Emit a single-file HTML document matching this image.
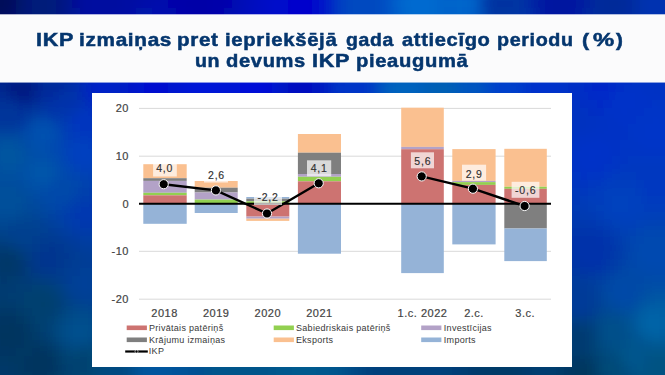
<!DOCTYPE html>
<html><head><meta charset="utf-8"><style>
html,body{margin:0;padding:0;}
body{width:665px;height:375px;overflow:hidden;position:relative;background:#0040b0;font-family:"Liberation Sans",sans-serif;}
.bg{position:absolute;left:0;top:0;}
.hdr{position:absolute;left:0;top:15px;width:665px;height:67px;background:#FBFBFC;box-shadow:0 -1px 0 rgba(251,251,252,0.7),0 1px 0 rgba(251,251,252,0.55);}
.tw{position:absolute;transform-origin:0 0;font-weight:bold;color:#05366E;font-size:18.5px;line-height:21px;white-space:nowrap;letter-spacing:0.6px;-webkit-text-stroke:0.5px #05366E;}
.box{position:absolute;left:92px;top:93px;width:480px;height:274px;background:#fff;}
.ch{position:absolute;left:0;top:0;}
.ax{font-family:"Liberation Sans",sans-serif;font-size:11px;fill:#444;letter-spacing:0.5px;stroke:#444;stroke-width:0.2px;}
.dl{font-family:"Liberation Sans",sans-serif;font-size:10.5px;fill:#303030;letter-spacing:0.8px;stroke:#303030;stroke-width:0.15px;}
.lg{font-family:"Liberation Sans",sans-serif;font-size:9px;fill:#383838;letter-spacing:0.3px;}
</style></head><body>
<svg class="bg" width="665" height="375" viewBox="0 0 665 375"><defs><filter id="bl" x="-10%" y="-10%" width="120%" height="120%"><feGaussianBlur stdDeviation="5" edgeMode="duplicate"/></filter></defs><g filter="url(#bl)" shape-rendering="crispEdges"><rect x="-16" y="-16" width="9" height="9" fill="#000e5c"/><rect x="-8" y="-16" width="9" height="9" fill="#000e5b"/><rect x="0" y="-16" width="9" height="9" fill="#000e5b"/><rect x="8" y="-16" width="9" height="9" fill="#001060"/><rect x="16" y="-16" width="9" height="9" fill="#00146a"/><rect x="24" y="-16" width="9" height="9" fill="#001875"/><rect x="32" y="-16" width="9" height="9" fill="#001979"/><rect x="40" y="-16" width="9" height="9" fill="#001a7b"/><rect x="48" y="-16" width="9" height="9" fill="#00197d"/><rect x="56" y="-16" width="9" height="9" fill="#001883"/><rect x="64" y="-16" width="9" height="9" fill="#00168c"/><rect x="72" y="-16" width="9" height="9" fill="#001296"/><rect x="80" y="-16" width="9" height="9" fill="#000e9c"/><rect x="88" y="-16" width="9" height="9" fill="#000c9f"/><rect x="96" y="-16" width="9" height="9" fill="#000b9f"/><rect x="104" y="-16" width="9" height="9" fill="#000ca0"/><rect x="112" y="-16" width="9" height="9" fill="#000da0"/><rect x="120" y="-16" width="9" height="9" fill="#000ea1"/><rect x="128" y="-16" width="9" height="9" fill="#0010a3"/><rect x="136" y="-16" width="9" height="9" fill="#0011a6"/><rect x="144" y="-16" width="9" height="9" fill="#0011a8"/><rect x="152" y="-16" width="9" height="9" fill="#000faa"/><rect x="160" y="-16" width="9" height="9" fill="#000bab"/><rect x="168" y="-16" width="9" height="9" fill="#0008aa"/><rect x="176" y="-16" width="9" height="9" fill="#0004aa"/><rect x="184" y="-16" width="9" height="9" fill="#0002a9"/><rect x="192" y="-16" width="9" height="9" fill="#0001a9"/><rect x="200" y="-16" width="9" height="9" fill="#0001a9"/><rect x="208" y="-16" width="9" height="9" fill="#0002aa"/><rect x="216" y="-16" width="9" height="9" fill="#0004ab"/><rect x="224" y="-16" width="9" height="9" fill="#0007ae"/><rect x="232" y="-16" width="9" height="9" fill="#000bb2"/><rect x="240" y="-16" width="9" height="9" fill="#000eb7"/><rect x="248" y="-16" width="9" height="9" fill="#0010bd"/><rect x="256" y="-16" width="9" height="9" fill="#0010c2"/><rect x="264" y="-16" width="9" height="9" fill="#000ec6"/><rect x="272" y="-16" width="9" height="9" fill="#000cc8"/><rect x="280" y="-16" width="9" height="9" fill="#0009ca"/><rect x="288" y="-16" width="9" height="9" fill="#0008cb"/><rect x="296" y="-16" width="9" height="9" fill="#0008cb"/><rect x="304" y="-16" width="9" height="9" fill="#0009cb"/><rect x="312" y="-16" width="9" height="9" fill="#000fca"/><rect x="320" y="-16" width="9" height="9" fill="#001ac8"/><rect x="328" y="-16" width="9" height="9" fill="#002bc5"/><rect x="336" y="-16" width="9" height="9" fill="#003bc2"/><rect x="344" y="-16" width="9" height="9" fill="#0043c1"/><rect x="352" y="-16" width="9" height="9" fill="#0047c1"/><rect x="360" y="-16" width="9" height="9" fill="#0048c0"/><rect x="368" y="-16" width="9" height="9" fill="#0049c1"/><rect x="376" y="-16" width="9" height="9" fill="#004cc2"/><rect x="384" y="-16" width="9" height="9" fill="#0052c5"/><rect x="392" y="-16" width="9" height="9" fill="#005bc9"/><rect x="400" y="-16" width="9" height="9" fill="#0063cc"/><rect x="408" y="-16" width="9" height="9" fill="#0067ce"/><rect x="416" y="-16" width="9" height="9" fill="#0068ce"/><rect x="424" y="-16" width="9" height="9" fill="#0067ce"/><rect x="432" y="-16" width="9" height="9" fill="#0065cc"/><rect x="440" y="-16" width="9" height="9" fill="#0062ca"/><rect x="448" y="-16" width="9" height="9" fill="#0062c9"/><rect x="456" y="-16" width="9" height="9" fill="#0062c9"/><rect x="464" y="-16" width="9" height="9" fill="#005fc7"/><rect x="472" y="-16" width="9" height="9" fill="#0056c0"/><rect x="480" y="-16" width="9" height="9" fill="#0047b3"/><rect x="488" y="-16" width="9" height="9" fill="#003ba8"/><rect x="496" y="-16" width="9" height="9" fill="#0037a4"/><rect x="504" y="-16" width="9" height="9" fill="#0036a4"/><rect x="512" y="-16" width="9" height="9" fill="#0035a5"/><rect x="520" y="-16" width="9" height="9" fill="#0031a6"/><rect x="528" y="-16" width="9" height="9" fill="#002aa6"/><rect x="536" y="-16" width="9" height="9" fill="#0022a4"/><rect x="544" y="-16" width="9" height="9" fill="#001ca2"/><rect x="552" y="-16" width="9" height="9" fill="#001aa1"/><rect x="560" y="-16" width="9" height="9" fill="#001aa1"/><rect x="568" y="-16" width="9" height="9" fill="#001ca1"/><rect x="576" y="-16" width="9" height="9" fill="#0020a1"/><rect x="584" y="-16" width="9" height="9" fill="#0025a0"/><rect x="592" y="-16" width="9" height="9" fill="#00289e"/><rect x="600" y="-16" width="9" height="9" fill="#002a9c"/><rect x="608" y="-16" width="9" height="9" fill="#002a9b"/><rect x="616" y="-16" width="9" height="9" fill="#002b9c"/><rect x="624" y="-16" width="9" height="9" fill="#002ca0"/><rect x="632" y="-16" width="9" height="9" fill="#002fa6"/><rect x="640" y="-16" width="9" height="9" fill="#0031ac"/><rect x="648" y="-16" width="9" height="9" fill="#0032af"/><rect x="656" y="-16" width="9" height="9" fill="#0033af"/><rect x="664" y="-16" width="9" height="9" fill="#0033af"/><rect x="672" y="-16" width="9" height="9" fill="#0033af"/><rect x="680" y="-16" width="9" height="9" fill="#0032af"/><rect x="-16" y="-8" width="9" height="9" fill="#000e5b"/><rect x="-8" y="-8" width="9" height="9" fill="#000d59"/><rect x="0" y="-8" width="9" height="9" fill="#000d59"/><rect x="8" y="-8" width="9" height="9" fill="#000f5d"/><rect x="16" y="-8" width="9" height="9" fill="#00146a"/><rect x="24" y="-8" width="9" height="9" fill="#001977"/><rect x="32" y="-8" width="9" height="9" fill="#001a7a"/><rect x="40" y="-8" width="9" height="9" fill="#001a7a"/><rect x="48" y="-8" width="9" height="9" fill="#001a7c"/><rect x="56" y="-8" width="9" height="9" fill="#001981"/><rect x="64" y="-8" width="9" height="9" fill="#00168b"/><rect x="72" y="-8" width="9" height="9" fill="#001197"/><rect x="80" y="-8" width="9" height="9" fill="#000d9e"/><rect x="88" y="-8" width="9" height="9" fill="#000ba0"/><rect x="96" y="-8" width="9" height="9" fill="#000aa0"/><rect x="104" y="-8" width="9" height="9" fill="#000ba0"/><rect x="112" y="-8" width="9" height="9" fill="#000ca0"/><rect x="120" y="-8" width="9" height="9" fill="#000ea1"/><rect x="128" y="-8" width="9" height="9" fill="#0010a3"/><rect x="136" y="-8" width="9" height="9" fill="#0011a6"/><rect x="144" y="-8" width="9" height="9" fill="#0011a9"/><rect x="152" y="-8" width="9" height="9" fill="#000eaa"/><rect x="160" y="-8" width="9" height="9" fill="#000bab"/><rect x="168" y="-8" width="9" height="9" fill="#0006aa"/><rect x="176" y="-8" width="9" height="9" fill="#0003a9"/><rect x="184" y="-8" width="9" height="9" fill="#0001a9"/><rect x="192" y="-8" width="9" height="9" fill="#0000a8"/><rect x="200" y="-8" width="9" height="9" fill="#0000a8"/><rect x="208" y="-8" width="9" height="9" fill="#0001a9"/><rect x="216" y="-8" width="9" height="9" fill="#0003aa"/><rect x="224" y="-8" width="9" height="9" fill="#0006ad"/><rect x="232" y="-8" width="9" height="9" fill="#000ab2"/><rect x="240" y="-8" width="9" height="9" fill="#000db8"/><rect x="248" y="-8" width="9" height="9" fill="#000fbd"/><rect x="256" y="-8" width="9" height="9" fill="#000fc3"/><rect x="264" y="-8" width="9" height="9" fill="#000dc7"/><rect x="272" y="-8" width="9" height="9" fill="#000ac9"/><rect x="280" y="-8" width="9" height="9" fill="#0007cb"/><rect x="288" y="-8" width="9" height="9" fill="#0006cc"/><rect x="296" y="-8" width="9" height="9" fill="#0006cc"/><rect x="304" y="-8" width="9" height="9" fill="#0007cc"/><rect x="312" y="-8" width="9" height="9" fill="#000bcb"/><rect x="320" y="-8" width="9" height="9" fill="#0017c8"/><rect x="328" y="-8" width="9" height="9" fill="#002bc5"/><rect x="336" y="-8" width="9" height="9" fill="#003dc2"/><rect x="344" y="-8" width="9" height="9" fill="#0046c1"/><rect x="352" y="-8" width="9" height="9" fill="#0048c0"/><rect x="360" y="-8" width="9" height="9" fill="#0049c0"/><rect x="368" y="-8" width="9" height="9" fill="#0049c0"/><rect x="376" y="-8" width="9" height="9" fill="#004bc1"/><rect x="384" y="-8" width="9" height="9" fill="#0052c5"/><rect x="392" y="-8" width="9" height="9" fill="#005dca"/><rect x="400" y="-8" width="9" height="9" fill="#0066cd"/><rect x="408" y="-8" width="9" height="9" fill="#0069cf"/><rect x="416" y="-8" width="9" height="9" fill="#006ad0"/><rect x="424" y="-8" width="9" height="9" fill="#006acf"/><rect x="432" y="-8" width="9" height="9" fill="#0067cd"/><rect x="440" y="-8" width="9" height="9" fill="#0064cb"/><rect x="448" y="-8" width="9" height="9" fill="#0064cb"/><rect x="456" y="-8" width="9" height="9" fill="#0065cb"/><rect x="464" y="-8" width="9" height="9" fill="#0064ca"/><rect x="472" y="-8" width="9" height="9" fill="#005bc3"/><rect x="480" y="-8" width="9" height="9" fill="#0045b0"/><rect x="488" y="-8" width="9" height="9" fill="#0037a4"/><rect x="496" y="-8" width="9" height="9" fill="#0034a1"/><rect x="504" y="-8" width="9" height="9" fill="#0034a2"/><rect x="512" y="-8" width="9" height="9" fill="#0034a3"/><rect x="520" y="-8" width="9" height="9" fill="#0031a5"/><rect x="528" y="-8" width="9" height="9" fill="#0028a5"/><rect x="536" y="-8" width="9" height="9" fill="#001fa3"/><rect x="544" y="-8" width="9" height="9" fill="#001aa1"/><rect x="552" y="-8" width="9" height="9" fill="#0018a0"/><rect x="560" y="-8" width="9" height="9" fill="#0018a0"/><rect x="568" y="-8" width="9" height="9" fill="#0019a1"/><rect x="576" y="-8" width="9" height="9" fill="#001ea1"/><rect x="584" y="-8" width="9" height="9" fill="#00249f"/><rect x="592" y="-8" width="9" height="9" fill="#00299c"/><rect x="600" y="-8" width="9" height="9" fill="#002a9a"/><rect x="608" y="-8" width="9" height="9" fill="#002a9a"/><rect x="616" y="-8" width="9" height="9" fill="#002a9a"/><rect x="624" y="-8" width="9" height="9" fill="#002b9e"/><rect x="632" y="-8" width="9" height="9" fill="#002fa6"/><rect x="640" y="-8" width="9" height="9" fill="#0032ad"/><rect x="648" y="-8" width="9" height="9" fill="#0033b0"/><rect x="656" y="-8" width="9" height="9" fill="#0033b0"/><rect x="664" y="-8" width="9" height="9" fill="#0033b0"/><rect x="672" y="-8" width="9" height="9" fill="#0033b0"/><rect x="680" y="-8" width="9" height="9" fill="#0033b0"/><rect x="-16" y="0" width="9" height="9" fill="#000e5b"/><rect x="-8" y="0" width="9" height="9" fill="#000d59"/><rect x="0" y="0" width="9" height="9" fill="#000d5a"/><rect x="8" y="0" width="9" height="9" fill="#000f5e"/><rect x="16" y="0" width="9" height="9" fill="#00156c"/><rect x="24" y="0" width="9" height="9" fill="#001978"/><rect x="32" y="0" width="9" height="9" fill="#001a7a"/><rect x="40" y="0" width="9" height="9" fill="#001a7a"/><rect x="48" y="0" width="9" height="9" fill="#001a7b"/><rect x="56" y="0" width="9" height="9" fill="#001980"/><rect x="64" y="0" width="9" height="9" fill="#00168b"/><rect x="72" y="0" width="9" height="9" fill="#001198"/><rect x="80" y="0" width="9" height="9" fill="#000c9e"/><rect x="88" y="0" width="9" height="9" fill="#000aa0"/><rect x="96" y="0" width="9" height="9" fill="#000aa0"/><rect x="104" y="0" width="9" height="9" fill="#000aa0"/><rect x="112" y="0" width="9" height="9" fill="#000ba0"/><rect x="120" y="0" width="9" height="9" fill="#000da2"/><rect x="128" y="0" width="9" height="9" fill="#0010a4"/><rect x="136" y="0" width="9" height="9" fill="#0011a7"/><rect x="144" y="0" width="9" height="9" fill="#0011aa"/><rect x="152" y="0" width="9" height="9" fill="#000fac"/><rect x="160" y="0" width="9" height="9" fill="#000bac"/><rect x="168" y="0" width="9" height="9" fill="#0006ab"/><rect x="176" y="0" width="9" height="9" fill="#0003a9"/><rect x="184" y="0" width="9" height="9" fill="#0001a8"/><rect x="192" y="0" width="9" height="9" fill="#0000a8"/><rect x="200" y="0" width="9" height="9" fill="#0000a8"/><rect x="208" y="0" width="9" height="9" fill="#0001a9"/><rect x="216" y="0" width="9" height="9" fill="#0002aa"/><rect x="224" y="0" width="9" height="9" fill="#0006ad"/><rect x="232" y="0" width="9" height="9" fill="#000ab2"/><rect x="240" y="0" width="9" height="9" fill="#000db8"/><rect x="248" y="0" width="9" height="9" fill="#000fbe"/><rect x="256" y="0" width="9" height="9" fill="#000fc3"/><rect x="264" y="0" width="9" height="9" fill="#000dc7"/><rect x="272" y="0" width="9" height="9" fill="#000aca"/><rect x="280" y="0" width="9" height="9" fill="#0007cb"/><rect x="288" y="0" width="9" height="9" fill="#0005cc"/><rect x="296" y="0" width="9" height="9" fill="#0005cc"/><rect x="304" y="0" width="9" height="9" fill="#0006cc"/><rect x="312" y="0" width="9" height="9" fill="#000acb"/><rect x="320" y="0" width="9" height="9" fill="#0016c9"/><rect x="328" y="0" width="9" height="9" fill="#002bc5"/><rect x="336" y="0" width="9" height="9" fill="#003ec2"/><rect x="344" y="0" width="9" height="9" fill="#0047c0"/><rect x="352" y="0" width="9" height="9" fill="#0049c0"/><rect x="360" y="0" width="9" height="9" fill="#0049c0"/><rect x="368" y="0" width="9" height="9" fill="#0049c0"/><rect x="376" y="0" width="9" height="9" fill="#004bc1"/><rect x="384" y="0" width="9" height="9" fill="#0052c5"/><rect x="392" y="0" width="9" height="9" fill="#005eca"/><rect x="400" y="0" width="9" height="9" fill="#0067ce"/><rect x="408" y="0" width="9" height="9" fill="#006ad0"/><rect x="416" y="0" width="9" height="9" fill="#006bd0"/><rect x="424" y="0" width="9" height="9" fill="#006ad0"/><rect x="432" y="0" width="9" height="9" fill="#0068ce"/><rect x="440" y="0" width="9" height="9" fill="#0064cb"/><rect x="448" y="0" width="9" height="9" fill="#0065cb"/><rect x="456" y="0" width="9" height="9" fill="#0066cc"/><rect x="464" y="0" width="9" height="9" fill="#0065cb"/><rect x="472" y="0" width="9" height="9" fill="#005dc5"/><rect x="480" y="0" width="9" height="9" fill="#0043af"/><rect x="488" y="0" width="9" height="9" fill="#0035a2"/><rect x="496" y="0" width="9" height="9" fill="#0033a0"/><rect x="504" y="0" width="9" height="9" fill="#0033a1"/><rect x="512" y="0" width="9" height="9" fill="#0034a3"/><rect x="520" y="0" width="9" height="9" fill="#0031a5"/><rect x="528" y="0" width="9" height="9" fill="#0028a5"/><rect x="536" y="0" width="9" height="9" fill="#001ea3"/><rect x="544" y="0" width="9" height="9" fill="#0019a1"/><rect x="552" y="0" width="9" height="9" fill="#0017a0"/><rect x="560" y="0" width="9" height="9" fill="#0017a0"/><rect x="568" y="0" width="9" height="9" fill="#0018a0"/><rect x="576" y="0" width="9" height="9" fill="#001da1"/><rect x="584" y="0" width="9" height="9" fill="#00249f"/><rect x="592" y="0" width="9" height="9" fill="#00299c"/><rect x="600" y="0" width="9" height="9" fill="#002a9a"/><rect x="608" y="0" width="9" height="9" fill="#002a99"/><rect x="616" y="0" width="9" height="9" fill="#002a99"/><rect x="624" y="0" width="9" height="9" fill="#002b9d"/><rect x="632" y="0" width="9" height="9" fill="#002fa6"/><rect x="640" y="0" width="9" height="9" fill="#0032ae"/><rect x="648" y="0" width="9" height="9" fill="#0033b0"/><rect x="656" y="0" width="9" height="9" fill="#0033b0"/><rect x="664" y="0" width="9" height="9" fill="#0033b0"/><rect x="672" y="0" width="9" height="9" fill="#0033b0"/><rect x="680" y="0" width="9" height="9" fill="#0033b0"/><rect x="-16" y="8" width="9" height="9" fill="#000f5d"/><rect x="-8" y="8" width="9" height="9" fill="#000e5b"/><rect x="0" y="8" width="9" height="9" fill="#000e5c"/><rect x="8" y="8" width="9" height="9" fill="#001162"/><rect x="16" y="8" width="9" height="9" fill="#00166f"/><rect x="24" y="8" width="9" height="9" fill="#001978"/><rect x="32" y="8" width="9" height="9" fill="#001a7a"/><rect x="40" y="8" width="9" height="9" fill="#001a7a"/><rect x="48" y="8" width="9" height="9" fill="#001a7c"/><rect x="56" y="8" width="9" height="9" fill="#001982"/><rect x="64" y="8" width="9" height="9" fill="#00178d"/><rect x="72" y="8" width="9" height="9" fill="#001298"/><rect x="80" y="8" width="9" height="9" fill="#000d9e"/><rect x="88" y="8" width="9" height="9" fill="#000ba0"/><rect x="96" y="8" width="9" height="9" fill="#000aa0"/><rect x="104" y="8" width="9" height="9" fill="#000ba0"/><rect x="112" y="8" width="9" height="9" fill="#000ca1"/><rect x="120" y="8" width="9" height="9" fill="#000ea2"/><rect x="128" y="8" width="9" height="9" fill="#0011a5"/><rect x="136" y="8" width="9" height="9" fill="#0012a9"/><rect x="144" y="8" width="9" height="9" fill="#0012ac"/><rect x="152" y="8" width="9" height="9" fill="#0010ad"/><rect x="160" y="8" width="9" height="9" fill="#000cad"/><rect x="168" y="8" width="9" height="9" fill="#0007ac"/><rect x="176" y="8" width="9" height="9" fill="#0003aa"/><rect x="184" y="8" width="9" height="9" fill="#0001a9"/><rect x="192" y="8" width="9" height="9" fill="#0000a8"/><rect x="200" y="8" width="9" height="9" fill="#0000a8"/><rect x="208" y="8" width="9" height="9" fill="#0001a9"/><rect x="216" y="8" width="9" height="9" fill="#0003ab"/><rect x="224" y="8" width="9" height="9" fill="#0007af"/><rect x="232" y="8" width="9" height="9" fill="#000bb4"/><rect x="240" y="8" width="9" height="9" fill="#000eba"/><rect x="248" y="8" width="9" height="9" fill="#0010bf"/><rect x="256" y="8" width="9" height="9" fill="#0010c3"/><rect x="264" y="8" width="9" height="9" fill="#000dc7"/><rect x="272" y="8" width="9" height="9" fill="#000aca"/><rect x="280" y="8" width="9" height="9" fill="#0007cb"/><rect x="288" y="8" width="9" height="9" fill="#0006cc"/><rect x="296" y="8" width="9" height="9" fill="#0005cc"/><rect x="304" y="8" width="9" height="9" fill="#0006cc"/><rect x="312" y="8" width="9" height="9" fill="#000bcb"/><rect x="320" y="8" width="9" height="9" fill="#0017c8"/><rect x="328" y="8" width="9" height="9" fill="#002bc5"/><rect x="336" y="8" width="9" height="9" fill="#003dc2"/><rect x="344" y="8" width="9" height="9" fill="#0046c1"/><rect x="352" y="8" width="9" height="9" fill="#0048c0"/><rect x="360" y="8" width="9" height="9" fill="#0049c0"/><rect x="368" y="8" width="9" height="9" fill="#0049c0"/><rect x="376" y="8" width="9" height="9" fill="#004bc1"/><rect x="384" y="8" width="9" height="9" fill="#0052c5"/><rect x="392" y="8" width="9" height="9" fill="#005dca"/><rect x="400" y="8" width="9" height="9" fill="#0066ce"/><rect x="408" y="8" width="9" height="9" fill="#006acf"/><rect x="416" y="8" width="9" height="9" fill="#006bd0"/><rect x="424" y="8" width="9" height="9" fill="#006acf"/><rect x="432" y="8" width="9" height="9" fill="#0067cd"/><rect x="440" y="8" width="9" height="9" fill="#0064cb"/><rect x="448" y="8" width="9" height="9" fill="#0064cb"/><rect x="456" y="8" width="9" height="9" fill="#0065cb"/><rect x="464" y="8" width="9" height="9" fill="#0064cb"/><rect x="472" y="8" width="9" height="9" fill="#005cc4"/><rect x="480" y="8" width="9" height="9" fill="#0044b0"/><rect x="488" y="8" width="9" height="9" fill="#0036a3"/><rect x="496" y="8" width="9" height="9" fill="#0034a1"/><rect x="504" y="8" width="9" height="9" fill="#0034a1"/><rect x="512" y="8" width="9" height="9" fill="#0034a4"/><rect x="520" y="8" width="9" height="9" fill="#0031a6"/><rect x="528" y="8" width="9" height="9" fill="#0029a6"/><rect x="536" y="8" width="9" height="9" fill="#001fa4"/><rect x="544" y="8" width="9" height="9" fill="#0019a1"/><rect x="552" y="8" width="9" height="9" fill="#0018a0"/><rect x="560" y="8" width="9" height="9" fill="#0018a0"/><rect x="568" y="8" width="9" height="9" fill="#0019a1"/><rect x="576" y="8" width="9" height="9" fill="#001ea2"/><rect x="584" y="8" width="9" height="9" fill="#0025a0"/><rect x="592" y="8" width="9" height="9" fill="#00299d"/><rect x="600" y="8" width="9" height="9" fill="#002a9a"/><rect x="608" y="8" width="9" height="9" fill="#002a99"/><rect x="616" y="8" width="9" height="9" fill="#002a9a"/><rect x="624" y="8" width="9" height="9" fill="#002b9e"/><rect x="632" y="8" width="9" height="9" fill="#002fa6"/><rect x="640" y="8" width="9" height="9" fill="#0032ae"/><rect x="648" y="8" width="9" height="9" fill="#0033b0"/><rect x="656" y="8" width="9" height="9" fill="#0033b0"/><rect x="664" y="8" width="9" height="9" fill="#0033b0"/><rect x="672" y="8" width="9" height="9" fill="#0033b0"/><rect x="680" y="8" width="9" height="9" fill="#0033b0"/><rect x="-16" y="16" width="9" height="9" fill="#001163"/><rect x="-8" y="16" width="9" height="9" fill="#001161"/><rect x="0" y="16" width="9" height="9" fill="#001163"/><rect x="8" y="16" width="9" height="9" fill="#001469"/><rect x="16" y="16" width="9" height="9" fill="#001773"/><rect x="24" y="16" width="9" height="9" fill="#001979"/><rect x="32" y="16" width="9" height="9" fill="#001a7b"/><rect x="40" y="16" width="9" height="9" fill="#001a7c"/><rect x="48" y="16" width="9" height="9" fill="#001b7f"/><rect x="56" y="16" width="9" height="9" fill="#001a85"/><rect x="64" y="16" width="9" height="9" fill="#00188f"/><rect x="72" y="16" width="9" height="9" fill="#001498"/><rect x="80" y="16" width="9" height="9" fill="#00109e"/><rect x="88" y="16" width="9" height="9" fill="#000da0"/><rect x="96" y="16" width="9" height="9" fill="#000ca0"/><rect x="104" y="16" width="9" height="9" fill="#000ca1"/><rect x="112" y="16" width="9" height="9" fill="#000ea2"/><rect x="120" y="16" width="9" height="9" fill="#0010a4"/><rect x="128" y="16" width="9" height="9" fill="#0013a8"/><rect x="136" y="16" width="9" height="9" fill="#0014ab"/><rect x="144" y="16" width="9" height="9" fill="#0014ae"/><rect x="152" y="16" width="9" height="9" fill="#0011b0"/><rect x="160" y="16" width="9" height="9" fill="#000eb0"/><rect x="168" y="16" width="9" height="9" fill="#0009ae"/><rect x="176" y="16" width="9" height="9" fill="#0005ac"/><rect x="184" y="16" width="9" height="9" fill="#0003aa"/><rect x="192" y="16" width="9" height="9" fill="#0002a9"/><rect x="200" y="16" width="9" height="9" fill="#0002a9"/><rect x="208" y="16" width="9" height="9" fill="#0003ab"/><rect x="216" y="16" width="9" height="9" fill="#0005ad"/><rect x="224" y="16" width="9" height="9" fill="#0009b2"/><rect x="232" y="16" width="9" height="9" fill="#000db7"/><rect x="240" y="16" width="9" height="9" fill="#0010bc"/><rect x="248" y="16" width="9" height="9" fill="#0011c0"/><rect x="256" y="16" width="9" height="9" fill="#0011c4"/><rect x="264" y="16" width="9" height="9" fill="#000fc7"/><rect x="272" y="16" width="9" height="9" fill="#000cc9"/><rect x="280" y="16" width="9" height="9" fill="#000aca"/><rect x="288" y="16" width="9" height="9" fill="#0008cb"/><rect x="296" y="16" width="9" height="9" fill="#0007cb"/><rect x="304" y="16" width="9" height="9" fill="#0009cb"/><rect x="312" y="16" width="9" height="9" fill="#000fca"/><rect x="320" y="16" width="9" height="9" fill="#001ac8"/><rect x="328" y="16" width="9" height="9" fill="#002bc5"/><rect x="336" y="16" width="9" height="9" fill="#003bc2"/><rect x="344" y="16" width="9" height="9" fill="#0044c1"/><rect x="352" y="16" width="9" height="9" fill="#0047c0"/><rect x="360" y="16" width="9" height="9" fill="#0048c0"/><rect x="368" y="16" width="9" height="9" fill="#0049c1"/><rect x="376" y="16" width="9" height="9" fill="#004bc2"/><rect x="384" y="16" width="9" height="9" fill="#0052c5"/><rect x="392" y="16" width="9" height="9" fill="#005bc8"/><rect x="400" y="16" width="9" height="9" fill="#0063cc"/><rect x="408" y="16" width="9" height="9" fill="#0067ce"/><rect x="416" y="16" width="9" height="9" fill="#0068ce"/><rect x="424" y="16" width="9" height="9" fill="#0067ce"/><rect x="432" y="16" width="9" height="9" fill="#0065cc"/><rect x="440" y="16" width="9" height="9" fill="#0062ca"/><rect x="448" y="16" width="9" height="9" fill="#0062c9"/><rect x="456" y="16" width="9" height="9" fill="#0062c9"/><rect x="464" y="16" width="9" height="9" fill="#0060c8"/><rect x="472" y="16" width="9" height="9" fill="#0057c0"/><rect x="480" y="16" width="9" height="9" fill="#0047b3"/><rect x="488" y="16" width="9" height="9" fill="#003ba8"/><rect x="496" y="16" width="9" height="9" fill="#0036a4"/><rect x="504" y="16" width="9" height="9" fill="#0036a4"/><rect x="512" y="16" width="9" height="9" fill="#0035a6"/><rect x="520" y="16" width="9" height="9" fill="#0032a8"/><rect x="528" y="16" width="9" height="9" fill="#002ba8"/><rect x="536" y="16" width="9" height="9" fill="#0023a6"/><rect x="544" y="16" width="9" height="9" fill="#001da3"/><rect x="552" y="16" width="9" height="9" fill="#001aa2"/><rect x="560" y="16" width="9" height="9" fill="#001aa2"/><rect x="568" y="16" width="9" height="9" fill="#001ca3"/><rect x="576" y="16" width="9" height="9" fill="#0020a3"/><rect x="584" y="16" width="9" height="9" fill="#0025a2"/><rect x="592" y="16" width="9" height="9" fill="#00299f"/><rect x="600" y="16" width="9" height="9" fill="#002a9c"/><rect x="608" y="16" width="9" height="9" fill="#002a9c"/><rect x="616" y="16" width="9" height="9" fill="#002b9d"/><rect x="624" y="16" width="9" height="9" fill="#002ca0"/><rect x="632" y="16" width="9" height="9" fill="#002fa7"/><rect x="640" y="16" width="9" height="9" fill="#0031ad"/><rect x="648" y="16" width="9" height="9" fill="#0032af"/><rect x="656" y="16" width="9" height="9" fill="#0033b0"/><rect x="664" y="16" width="9" height="9" fill="#0033b0"/><rect x="672" y="16" width="9" height="9" fill="#0033b0"/><rect x="680" y="16" width="9" height="9" fill="#0033b0"/><rect x="-16" y="76" width="9" height="9" fill="#002b91"/><rect x="-8" y="76" width="9" height="9" fill="#00288e"/><rect x="0" y="76" width="9" height="9" fill="#00238a"/><rect x="8" y="76" width="9" height="9" fill="#001f85"/><rect x="16" y="76" width="9" height="9" fill="#001c83"/><rect x="24" y="76" width="9" height="9" fill="#001d84"/><rect x="32" y="76" width="9" height="9" fill="#00238e"/><rect x="40" y="76" width="9" height="9" fill="#002999"/><rect x="48" y="76" width="9" height="9" fill="#002a9b"/><rect x="56" y="76" width="9" height="9" fill="#002b9c"/><rect x="64" y="76" width="9" height="9" fill="#002ca2"/><rect x="72" y="76" width="9" height="9" fill="#002bab"/><rect x="80" y="76" width="9" height="9" fill="#0027b8"/><rect x="88" y="76" width="9" height="9" fill="#0023c3"/><rect x="96" y="76" width="9" height="9" fill="#0021c7"/><rect x="104" y="76" width="9" height="9" fill="#0020c7"/><rect x="112" y="76" width="9" height="9" fill="#0021c5"/><rect x="120" y="76" width="9" height="9" fill="#001ec5"/><rect x="128" y="76" width="9" height="9" fill="#0018c9"/><rect x="136" y="76" width="9" height="9" fill="#0013cd"/><rect x="144" y="76" width="9" height="9" fill="#0011cf"/><rect x="152" y="76" width="9" height="9" fill="#0010d0"/><rect x="160" y="76" width="9" height="9" fill="#0011cf"/><rect x="168" y="76" width="9" height="9" fill="#0014cf"/><rect x="176" y="76" width="9" height="9" fill="#0016d1"/><rect x="184" y="76" width="9" height="9" fill="#0018d5"/><rect x="192" y="76" width="9" height="9" fill="#0018d7"/><rect x="200" y="76" width="9" height="9" fill="#0018d8"/><rect x="208" y="76" width="9" height="9" fill="#0018d7"/><rect x="216" y="76" width="9" height="9" fill="#0017d6"/><rect x="224" y="76" width="9" height="9" fill="#0015d5"/><rect x="232" y="76" width="9" height="9" fill="#0012d6"/><rect x="240" y="76" width="9" height="9" fill="#0011d7"/><rect x="248" y="76" width="9" height="9" fill="#0010d8"/><rect x="256" y="76" width="9" height="9" fill="#0010d7"/><rect x="264" y="76" width="9" height="9" fill="#0011d4"/><rect x="272" y="76" width="9" height="9" fill="#0012cd"/><rect x="280" y="76" width="9" height="9" fill="#0012c5"/><rect x="288" y="76" width="9" height="9" fill="#0011c1"/><rect x="296" y="76" width="9" height="9" fill="#0010c0"/><rect x="304" y="76" width="9" height="9" fill="#0011c0"/><rect x="312" y="76" width="9" height="9" fill="#0014c1"/><rect x="320" y="76" width="9" height="9" fill="#001ec2"/><rect x="328" y="76" width="9" height="9" fill="#002cc5"/><rect x="336" y="76" width="9" height="9" fill="#0033c7"/><rect x="344" y="76" width="9" height="9" fill="#0035c8"/><rect x="352" y="76" width="9" height="9" fill="#0035c8"/><rect x="360" y="76" width="9" height="9" fill="#0037c7"/><rect x="368" y="76" width="9" height="9" fill="#003fc5"/><rect x="376" y="76" width="9" height="9" fill="#004fc1"/><rect x="384" y="76" width="9" height="9" fill="#005dbf"/><rect x="392" y="76" width="9" height="9" fill="#0062be"/><rect x="400" y="76" width="9" height="9" fill="#0063be"/><rect x="408" y="76" width="9" height="9" fill="#0062be"/><rect x="416" y="76" width="9" height="9" fill="#0060bc"/><rect x="424" y="76" width="9" height="9" fill="#005fb8"/><rect x="432" y="76" width="9" height="9" fill="#005fb6"/><rect x="440" y="76" width="9" height="9" fill="#005fb6"/><rect x="448" y="76" width="9" height="9" fill="#005db7"/><rect x="456" y="76" width="9" height="9" fill="#0058bd"/><rect x="464" y="76" width="9" height="9" fill="#0055c0"/><rect x="472" y="76" width="9" height="9" fill="#0054c0"/><rect x="480" y="76" width="9" height="9" fill="#0050c2"/><rect x="488" y="76" width="9" height="9" fill="#0045c8"/><rect x="496" y="76" width="9" height="9" fill="#0041cb"/><rect x="504" y="76" width="9" height="9" fill="#0040cb"/><rect x="512" y="76" width="9" height="9" fill="#003eca"/><rect x="520" y="76" width="9" height="9" fill="#0038ca"/><rect x="528" y="76" width="9" height="9" fill="#0032cb"/><rect x="536" y="76" width="9" height="9" fill="#0030cc"/><rect x="544" y="76" width="9" height="9" fill="#0030cb"/><rect x="552" y="76" width="9" height="9" fill="#0031ca"/><rect x="560" y="76" width="9" height="9" fill="#0030c8"/><rect x="568" y="76" width="9" height="9" fill="#002fc5"/><rect x="576" y="76" width="9" height="9" fill="#002dc5"/><rect x="584" y="76" width="9" height="9" fill="#002ac6"/><rect x="592" y="76" width="9" height="9" fill="#0029c7"/><rect x="600" y="76" width="9" height="9" fill="#0029c8"/><rect x="608" y="76" width="9" height="9" fill="#002ac7"/><rect x="616" y="76" width="9" height="9" fill="#002dc7"/><rect x="624" y="76" width="9" height="9" fill="#002fc6"/><rect x="632" y="76" width="9" height="9" fill="#0030c5"/><rect x="640" y="76" width="9" height="9" fill="#0031c4"/><rect x="648" y="76" width="9" height="9" fill="#0032c3"/><rect x="656" y="76" width="9" height="9" fill="#0032c1"/><rect x="664" y="76" width="9" height="9" fill="#0033c0"/><rect x="672" y="76" width="9" height="9" fill="#0033bf"/><rect x="680" y="76" width="9" height="9" fill="#0034be"/><rect x="-16" y="84" width="9" height="9" fill="#002d93"/><rect x="-8" y="84" width="9" height="9" fill="#002a90"/><rect x="0" y="84" width="9" height="9" fill="#00258b"/><rect x="8" y="84" width="9" height="9" fill="#001e85"/><rect x="16" y="84" width="9" height="9" fill="#001b81"/><rect x="24" y="84" width="9" height="9" fill="#001b82"/><rect x="32" y="84" width="9" height="9" fill="#00238d"/><rect x="40" y="84" width="9" height="9" fill="#002a99"/><rect x="48" y="84" width="9" height="9" fill="#002a9a"/><rect x="56" y="84" width="9" height="9" fill="#002b9d"/><rect x="64" y="84" width="9" height="9" fill="#002ea4"/><rect x="72" y="84" width="9" height="9" fill="#002eab"/><rect x="80" y="84" width="9" height="9" fill="#0029b8"/><rect x="88" y="84" width="9" height="9" fill="#0022c4"/><rect x="96" y="84" width="9" height="9" fill="#0020c8"/><rect x="104" y="84" width="9" height="9" fill="#0020c8"/><rect x="112" y="84" width="9" height="9" fill="#0021c6"/><rect x="120" y="84" width="9" height="9" fill="#001fc6"/><rect x="128" y="84" width="9" height="9" fill="#0018c9"/><rect x="136" y="84" width="9" height="9" fill="#0012ce"/><rect x="144" y="84" width="9" height="9" fill="#0010d0"/><rect x="152" y="84" width="9" height="9" fill="#0010d0"/><rect x="160" y="84" width="9" height="9" fill="#0011cf"/><rect x="168" y="84" width="9" height="9" fill="#0013cf"/><rect x="176" y="84" width="9" height="9" fill="#0016d2"/><rect x="184" y="84" width="9" height="9" fill="#0018d6"/><rect x="192" y="84" width="9" height="9" fill="#0018d8"/><rect x="200" y="84" width="9" height="9" fill="#0018d8"/><rect x="208" y="84" width="9" height="9" fill="#0018d8"/><rect x="216" y="84" width="9" height="9" fill="#0017d6"/><rect x="224" y="84" width="9" height="9" fill="#0015d5"/><rect x="232" y="84" width="9" height="9" fill="#0012d6"/><rect x="240" y="84" width="9" height="9" fill="#0010d8"/><rect x="248" y="84" width="9" height="9" fill="#0010d8"/><rect x="256" y="84" width="9" height="9" fill="#0010d8"/><rect x="264" y="84" width="9" height="9" fill="#0011d5"/><rect x="272" y="84" width="9" height="9" fill="#0012ce"/><rect x="280" y="84" width="9" height="9" fill="#0012c4"/><rect x="288" y="84" width="9" height="9" fill="#0011c1"/><rect x="296" y="84" width="9" height="9" fill="#0010c0"/><rect x="304" y="84" width="9" height="9" fill="#0010c0"/><rect x="312" y="84" width="9" height="9" fill="#0013c1"/><rect x="320" y="84" width="9" height="9" fill="#001dc2"/><rect x="328" y="84" width="9" height="9" fill="#002cc5"/><rect x="336" y="84" width="9" height="9" fill="#0034c7"/><rect x="344" y="84" width="9" height="9" fill="#0035c8"/><rect x="352" y="84" width="9" height="9" fill="#0035c8"/><rect x="360" y="84" width="9" height="9" fill="#0036c7"/><rect x="368" y="84" width="9" height="9" fill="#003ec5"/><rect x="376" y="84" width="9" height="9" fill="#0050c1"/><rect x="384" y="84" width="9" height="9" fill="#005fbf"/><rect x="392" y="84" width="9" height="9" fill="#0063be"/><rect x="400" y="84" width="9" height="9" fill="#0064be"/><rect x="408" y="84" width="9" height="9" fill="#0063be"/><rect x="416" y="84" width="9" height="9" fill="#0061bc"/><rect x="424" y="84" width="9" height="9" fill="#005fb7"/><rect x="432" y="84" width="9" height="9" fill="#0060b5"/><rect x="440" y="84" width="9" height="9" fill="#0060b5"/><rect x="448" y="84" width="9" height="9" fill="#005eb6"/><rect x="456" y="84" width="9" height="9" fill="#0058bd"/><rect x="464" y="84" width="9" height="9" fill="#0055c0"/><rect x="472" y="84" width="9" height="9" fill="#0055c0"/><rect x="480" y="84" width="9" height="9" fill="#0051c2"/><rect x="488" y="84" width="9" height="9" fill="#0044c9"/><rect x="496" y="84" width="9" height="9" fill="#0040cc"/><rect x="504" y="84" width="9" height="9" fill="#0040cc"/><rect x="512" y="84" width="9" height="9" fill="#003fcb"/><rect x="520" y="84" width="9" height="9" fill="#0038ca"/><rect x="528" y="84" width="9" height="9" fill="#0031cb"/><rect x="536" y="84" width="9" height="9" fill="#0030cc"/><rect x="544" y="84" width="9" height="9" fill="#0030cc"/><rect x="552" y="84" width="9" height="9" fill="#0030cb"/><rect x="560" y="84" width="9" height="9" fill="#0030c8"/><rect x="568" y="84" width="9" height="9" fill="#002fc6"/><rect x="576" y="84" width="9" height="9" fill="#002dc5"/><rect x="584" y="84" width="9" height="9" fill="#002ac7"/><rect x="592" y="84" width="9" height="9" fill="#0028c8"/><rect x="600" y="84" width="9" height="9" fill="#0028c8"/><rect x="608" y="84" width="9" height="9" fill="#002ac8"/><rect x="616" y="84" width="9" height="9" fill="#002fc7"/><rect x="624" y="84" width="9" height="9" fill="#0031c7"/><rect x="632" y="84" width="9" height="9" fill="#0031c7"/><rect x="640" y="84" width="9" height="9" fill="#0032c5"/><rect x="648" y="84" width="9" height="9" fill="#0032c4"/><rect x="656" y="84" width="9" height="9" fill="#0033c3"/><rect x="664" y="84" width="9" height="9" fill="#0033c2"/><rect x="672" y="84" width="9" height="9" fill="#0034c1"/><rect x="680" y="84" width="9" height="9" fill="#0034c0"/><rect x="-16" y="92" width="9" height="9" fill="#003095"/><rect x="-8" y="92" width="9" height="9" fill="#002e94"/><rect x="0" y="92" width="9" height="9" fill="#002b91"/><rect x="8" y="92" width="9" height="9" fill="#00248b"/><rect x="16" y="92" width="9" height="9" fill="#001e84"/><rect x="24" y="92" width="9" height="9" fill="#001e85"/><rect x="32" y="92" width="9" height="9" fill="#002590"/><rect x="40" y="92" width="9" height="9" fill="#002b9b"/><rect x="48" y="92" width="9" height="9" fill="#002c9e"/><rect x="56" y="92" width="9" height="9" fill="#0030a5"/><rect x="64" y="92" width="9" height="9" fill="#0032a8"/><rect x="72" y="92" width="9" height="9" fill="#0030ac"/><rect x="80" y="92" width="9" height="9" fill="#002cb6"/><rect x="88" y="92" width="9" height="9" fill="#0025c1"/><rect x="96" y="92" width="9" height="9" fill="#0021c6"/><rect x="104" y="92" width="9" height="9" fill="#0021c7"/><rect x="112" y="92" width="9" height="9" fill="#0022c5"/><rect x="120" y="92" width="9" height="9" fill="#0020c5"/><rect x="128" y="92" width="9" height="9" fill="#001ac8"/><rect x="136" y="92" width="9" height="9" fill="#0013cd"/><rect x="144" y="92" width="9" height="9" fill="#0011cf"/><rect x="152" y="92" width="9" height="9" fill="#0011d0"/><rect x="160" y="92" width="9" height="9" fill="#0012cf"/><rect x="168" y="92" width="9" height="9" fill="#0014cf"/><rect x="176" y="92" width="9" height="9" fill="#0017d1"/><rect x="184" y="92" width="9" height="9" fill="#0018d5"/><rect x="192" y="92" width="9" height="9" fill="#0018d7"/><rect x="200" y="92" width="9" height="9" fill="#0018d8"/><rect x="208" y="92" width="9" height="9" fill="#0018d7"/><rect x="216" y="92" width="9" height="9" fill="#0017d6"/><rect x="224" y="92" width="9" height="9" fill="#0015d5"/><rect x="232" y="92" width="9" height="9" fill="#0012d6"/><rect x="240" y="92" width="9" height="9" fill="#0011d7"/><rect x="248" y="92" width="9" height="9" fill="#0010d8"/><rect x="256" y="92" width="9" height="9" fill="#0010d7"/><rect x="264" y="92" width="9" height="9" fill="#0011d4"/><rect x="272" y="92" width="9" height="9" fill="#0013cd"/><rect x="280" y="92" width="9" height="9" fill="#0012c5"/><rect x="288" y="92" width="9" height="9" fill="#0011c1"/><rect x="296" y="92" width="9" height="9" fill="#0010c0"/><rect x="304" y="92" width="9" height="9" fill="#0011c0"/><rect x="312" y="92" width="9" height="9" fill="#0014c1"/><rect x="320" y="92" width="9" height="9" fill="#001dc2"/><rect x="328" y="92" width="9" height="9" fill="#002cc5"/><rect x="336" y="92" width="9" height="9" fill="#0033c7"/><rect x="344" y="92" width="9" height="9" fill="#0035c8"/><rect x="352" y="92" width="9" height="9" fill="#0035c8"/><rect x="360" y="92" width="9" height="9" fill="#0037c7"/><rect x="368" y="92" width="9" height="9" fill="#003fc5"/><rect x="376" y="92" width="9" height="9" fill="#0050c1"/><rect x="384" y="92" width="9" height="9" fill="#005dbf"/><rect x="392" y="92" width="9" height="9" fill="#0062be"/><rect x="400" y="92" width="9" height="9" fill="#0063be"/><rect x="408" y="92" width="9" height="9" fill="#0062be"/><rect x="416" y="92" width="9" height="9" fill="#0060bc"/><rect x="424" y="92" width="9" height="9" fill="#005fb8"/><rect x="432" y="92" width="9" height="9" fill="#005fb6"/><rect x="440" y="92" width="9" height="9" fill="#005fb6"/><rect x="448" y="92" width="9" height="9" fill="#005db7"/><rect x="456" y="92" width="9" height="9" fill="#0058bd"/><rect x="464" y="92" width="9" height="9" fill="#0055c0"/><rect x="472" y="92" width="9" height="9" fill="#0054c0"/><rect x="480" y="92" width="9" height="9" fill="#0050c2"/><rect x="488" y="92" width="9" height="9" fill="#0045c8"/><rect x="496" y="92" width="9" height="9" fill="#0041cb"/><rect x="504" y="92" width="9" height="9" fill="#0040cb"/><rect x="512" y="92" width="9" height="9" fill="#003ecb"/><rect x="520" y="92" width="9" height="9" fill="#0038ca"/><rect x="528" y="92" width="9" height="9" fill="#0032cb"/><rect x="536" y="92" width="9" height="9" fill="#0030cc"/><rect x="544" y="92" width="9" height="9" fill="#0030cb"/><rect x="552" y="92" width="9" height="9" fill="#0031ca"/><rect x="560" y="92" width="9" height="9" fill="#0031c7"/><rect x="568" y="92" width="9" height="9" fill="#0030c4"/><rect x="576" y="92" width="9" height="9" fill="#002ec4"/><rect x="584" y="92" width="9" height="9" fill="#002cc6"/><rect x="592" y="92" width="9" height="9" fill="#0029c7"/><rect x="600" y="92" width="9" height="9" fill="#0029c8"/><rect x="608" y="92" width="9" height="9" fill="#002dc8"/><rect x="616" y="92" width="9" height="9" fill="#0032c8"/><rect x="624" y="92" width="9" height="9" fill="#0033c8"/><rect x="632" y="92" width="9" height="9" fill="#0032c7"/><rect x="640" y="92" width="9" height="9" fill="#0032c6"/><rect x="648" y="92" width="9" height="9" fill="#0033c5"/><rect x="656" y="92" width="9" height="9" fill="#0033c4"/><rect x="664" y="92" width="9" height="9" fill="#0034c4"/><rect x="672" y="92" width="9" height="9" fill="#0034c3"/><rect x="680" y="92" width="9" height="9" fill="#0034c2"/><rect x="-16" y="92" width="9" height="9" fill="#003095"/><rect x="-8" y="92" width="9" height="9" fill="#002e94"/><rect x="0" y="92" width="9" height="9" fill="#002b91"/><rect x="8" y="92" width="9" height="9" fill="#00248b"/><rect x="16" y="92" width="9" height="9" fill="#001e84"/><rect x="24" y="92" width="9" height="9" fill="#001e85"/><rect x="32" y="92" width="9" height="9" fill="#002590"/><rect x="40" y="92" width="9" height="9" fill="#002b9b"/><rect x="48" y="92" width="9" height="9" fill="#002c9e"/><rect x="56" y="92" width="9" height="9" fill="#0030a5"/><rect x="64" y="92" width="9" height="9" fill="#0032a8"/><rect x="72" y="92" width="9" height="9" fill="#0030ac"/><rect x="80" y="92" width="9" height="9" fill="#002cb6"/><rect x="88" y="92" width="9" height="9" fill="#0025c1"/><rect x="96" y="92" width="9" height="9" fill="#0021c6"/><rect x="-16" y="100" width="9" height="9" fill="#003398"/><rect x="-8" y="100" width="9" height="9" fill="#003298"/><rect x="0" y="100" width="9" height="9" fill="#003298"/><rect x="8" y="100" width="9" height="9" fill="#003197"/><rect x="16" y="100" width="9" height="9" fill="#002c93"/><rect x="24" y="100" width="9" height="9" fill="#002991"/><rect x="32" y="100" width="9" height="9" fill="#002d98"/><rect x="40" y="100" width="9" height="9" fill="#0030a0"/><rect x="48" y="100" width="9" height="9" fill="#0031a6"/><rect x="56" y="100" width="9" height="9" fill="#0033aa"/><rect x="64" y="100" width="9" height="9" fill="#0033aa"/><rect x="72" y="100" width="9" height="9" fill="#0032ae"/><rect x="80" y="100" width="9" height="9" fill="#0031b6"/><rect x="88" y="100" width="9" height="9" fill="#002cbd"/><rect x="96" y="100" width="9" height="9" fill="#0027c1"/><rect x="-16" y="108" width="9" height="9" fill="#003599"/><rect x="-8" y="108" width="9" height="9" fill="#003499"/><rect x="0" y="108" width="9" height="9" fill="#00349a"/><rect x="8" y="108" width="9" height="9" fill="#00349a"/><rect x="16" y="108" width="9" height="9" fill="#003399"/><rect x="24" y="108" width="9" height="9" fill="#00349b"/><rect x="32" y="108" width="9" height="9" fill="#0038a0"/><rect x="40" y="108" width="9" height="9" fill="#0039a5"/><rect x="48" y="108" width="9" height="9" fill="#0036a8"/><rect x="56" y="108" width="9" height="9" fill="#0034aa"/><rect x="64" y="108" width="9" height="9" fill="#0034ad"/><rect x="72" y="108" width="9" height="9" fill="#0035b6"/><rect x="80" y="108" width="9" height="9" fill="#0035bc"/><rect x="88" y="108" width="9" height="9" fill="#0033bd"/><rect x="96" y="108" width="9" height="9" fill="#002fbe"/><rect x="-16" y="116" width="9" height="9" fill="#00389b"/><rect x="-8" y="116" width="9" height="9" fill="#00379b"/><rect x="0" y="116" width="9" height="9" fill="#00359a"/><rect x="8" y="116" width="9" height="9" fill="#00359a"/><rect x="16" y="116" width="9" height="9" fill="#00369b"/><rect x="24" y="116" width="9" height="9" fill="#003da1"/><rect x="32" y="116" width="9" height="9" fill="#0046a9"/><rect x="40" y="116" width="9" height="9" fill="#0048ac"/><rect x="48" y="116" width="9" height="9" fill="#0042ac"/><rect x="56" y="116" width="9" height="9" fill="#003aae"/><rect x="64" y="116" width="9" height="9" fill="#0037b4"/><rect x="72" y="116" width="9" height="9" fill="#0036be"/><rect x="80" y="116" width="9" height="9" fill="#0036c0"/><rect x="88" y="116" width="9" height="9" fill="#0036bf"/><rect x="96" y="116" width="9" height="9" fill="#0034bd"/><rect x="-16" y="124" width="9" height="9" fill="#003e9c"/><rect x="-8" y="124" width="9" height="9" fill="#003d9c"/><rect x="0" y="124" width="9" height="9" fill="#003b9c"/><rect x="8" y="124" width="9" height="9" fill="#003b9d"/><rect x="16" y="124" width="9" height="9" fill="#003ea0"/><rect x="24" y="124" width="9" height="9" fill="#0047a8"/><rect x="32" y="124" width="9" height="9" fill="#004fae"/><rect x="40" y="124" width="9" height="9" fill="#0051af"/><rect x="48" y="124" width="9" height="9" fill="#004daf"/><rect x="56" y="124" width="9" height="9" fill="#0042b1"/><rect x="64" y="124" width="9" height="9" fill="#003ab7"/><rect x="72" y="124" width="9" height="9" fill="#0037be"/><rect x="80" y="124" width="9" height="9" fill="#0036bf"/><rect x="88" y="124" width="9" height="9" fill="#0036be"/><rect x="96" y="124" width="9" height="9" fill="#0036bd"/><rect x="-16" y="132" width="9" height="9" fill="#00459e"/><rect x="-8" y="132" width="9" height="9" fill="#00479f"/><rect x="0" y="132" width="9" height="9" fill="#00499f"/><rect x="8" y="132" width="9" height="9" fill="#0049a0"/><rect x="16" y="132" width="9" height="9" fill="#0049a3"/><rect x="24" y="132" width="9" height="9" fill="#004ca9"/><rect x="32" y="132" width="9" height="9" fill="#0050af"/><rect x="40" y="132" width="9" height="9" fill="#0051b0"/><rect x="48" y="132" width="9" height="9" fill="#004faf"/><rect x="56" y="132" width="9" height="9" fill="#0046b1"/><rect x="64" y="132" width="9" height="9" fill="#003eb7"/><rect x="72" y="132" width="9" height="9" fill="#003abc"/><rect x="80" y="132" width="9" height="9" fill="#0039be"/><rect x="88" y="132" width="9" height="9" fill="#0039bd"/><rect x="96" y="132" width="9" height="9" fill="#0039bc"/><rect x="-16" y="140" width="9" height="9" fill="#004b9f"/><rect x="-8" y="140" width="9" height="9" fill="#004fa0"/><rect x="0" y="140" width="9" height="9" fill="#0052a0"/><rect x="8" y="140" width="9" height="9" fill="#0053a0"/><rect x="16" y="140" width="9" height="9" fill="#0050a2"/><rect x="24" y="140" width="9" height="9" fill="#004ea7"/><rect x="32" y="140" width="9" height="9" fill="#004fad"/><rect x="40" y="140" width="9" height="9" fill="#004fae"/><rect x="48" y="140" width="9" height="9" fill="#004caf"/><rect x="56" y="140" width="9" height="9" fill="#0046b2"/><rect x="64" y="140" width="9" height="9" fill="#0040b8"/><rect x="72" y="140" width="9" height="9" fill="#003fbd"/><rect x="80" y="140" width="9" height="9" fill="#003fbf"/><rect x="88" y="140" width="9" height="9" fill="#003ebe"/><rect x="96" y="140" width="9" height="9" fill="#003cbc"/><rect x="-16" y="148" width="9" height="9" fill="#004ea0"/><rect x="-8" y="148" width="9" height="9" fill="#0052a0"/><rect x="0" y="148" width="9" height="9" fill="#0054a0"/><rect x="8" y="148" width="9" height="9" fill="#0055a0"/><rect x="16" y="148" width="9" height="9" fill="#0053a1"/><rect x="24" y="148" width="9" height="9" fill="#004fa5"/><rect x="32" y="148" width="9" height="9" fill="#004eaa"/><rect x="40" y="148" width="9" height="9" fill="#004eac"/><rect x="48" y="148" width="9" height="9" fill="#004bae"/><rect x="56" y="148" width="9" height="9" fill="#0046b2"/><rect x="64" y="148" width="9" height="9" fill="#0042b9"/><rect x="72" y="148" width="9" height="9" fill="#0040bf"/><rect x="80" y="148" width="9" height="9" fill="#0040c0"/><rect x="88" y="148" width="9" height="9" fill="#0040bf"/><rect x="96" y="148" width="9" height="9" fill="#003ebc"/><rect x="-16" y="156" width="9" height="9" fill="#004ea0"/><rect x="-8" y="156" width="9" height="9" fill="#0052a0"/><rect x="0" y="156" width="9" height="9" fill="#0054a0"/><rect x="8" y="156" width="9" height="9" fill="#0054a0"/><rect x="16" y="156" width="9" height="9" fill="#0053a1"/><rect x="24" y="156" width="9" height="9" fill="#0051a6"/><rect x="32" y="156" width="9" height="9" fill="#0051a9"/><rect x="40" y="156" width="9" height="9" fill="#0051aa"/><rect x="48" y="156" width="9" height="9" fill="#004fac"/><rect x="56" y="156" width="9" height="9" fill="#0049b0"/><rect x="64" y="156" width="9" height="9" fill="#0043b7"/><rect x="72" y="156" width="9" height="9" fill="#0040be"/><rect x="80" y="156" width="9" height="9" fill="#0040bf"/><rect x="88" y="156" width="9" height="9" fill="#0040be"/><rect x="96" y="156" width="9" height="9" fill="#003fbb"/><rect x="-16" y="164" width="9" height="9" fill="#004d9f"/><rect x="-8" y="164" width="9" height="9" fill="#0050a0"/><rect x="0" y="164" width="9" height="9" fill="#0052a0"/><rect x="8" y="164" width="9" height="9" fill="#0052a1"/><rect x="16" y="164" width="9" height="9" fill="#0051a3"/><rect x="24" y="164" width="9" height="9" fill="#0051a7"/><rect x="32" y="164" width="9" height="9" fill="#0054a9"/><rect x="40" y="164" width="9" height="9" fill="#0054aa"/><rect x="48" y="164" width="9" height="9" fill="#0052aa"/><rect x="56" y="164" width="9" height="9" fill="#004cad"/><rect x="64" y="164" width="9" height="9" fill="#0046b2"/><rect x="72" y="164" width="9" height="9" fill="#0042b8"/><rect x="80" y="164" width="9" height="9" fill="#0041bb"/><rect x="88" y="164" width="9" height="9" fill="#0040ba"/><rect x="96" y="164" width="9" height="9" fill="#003fb8"/><rect x="-16" y="172" width="9" height="9" fill="#004c9e"/><rect x="-8" y="172" width="9" height="9" fill="#004e9e"/><rect x="0" y="172" width="9" height="9" fill="#004f9f"/><rect x="8" y="172" width="9" height="9" fill="#004fa0"/><rect x="16" y="172" width="9" height="9" fill="#004fa3"/><rect x="24" y="172" width="9" height="9" fill="#0051a7"/><rect x="32" y="172" width="9" height="9" fill="#0054aa"/><rect x="40" y="172" width="9" height="9" fill="#0055aa"/><rect x="48" y="172" width="9" height="9" fill="#0052aa"/><rect x="56" y="172" width="9" height="9" fill="#004cab"/><rect x="64" y="172" width="9" height="9" fill="#0047ad"/><rect x="72" y="172" width="9" height="9" fill="#0044b0"/><rect x="80" y="172" width="9" height="9" fill="#0042b3"/><rect x="88" y="172" width="9" height="9" fill="#0040b4"/><rect x="96" y="172" width="9" height="9" fill="#003fb4"/><rect x="-16" y="180" width="9" height="9" fill="#004c9c"/><rect x="-8" y="180" width="9" height="9" fill="#004d9c"/><rect x="0" y="180" width="9" height="9" fill="#004e9d"/><rect x="8" y="180" width="9" height="9" fill="#004e9d"/><rect x="16" y="180" width="9" height="9" fill="#004ea0"/><rect x="24" y="180" width="9" height="9" fill="#0050a4"/><rect x="32" y="180" width="9" height="9" fill="#0051a8"/><rect x="40" y="180" width="9" height="9" fill="#0052a9"/><rect x="48" y="180" width="9" height="9" fill="#004daa"/><rect x="56" y="180" width="9" height="9" fill="#0049aa"/><rect x="64" y="180" width="9" height="9" fill="#0048aa"/><rect x="72" y="180" width="9" height="9" fill="#0046ac"/><rect x="80" y="180" width="9" height="9" fill="#0042ae"/><rect x="88" y="180" width="9" height="9" fill="#0040af"/><rect x="96" y="180" width="9" height="9" fill="#003fb0"/><rect x="-16" y="188" width="9" height="9" fill="#004c9a"/><rect x="-8" y="188" width="9" height="9" fill="#004e9b"/><rect x="0" y="188" width="9" height="9" fill="#004f9b"/><rect x="8" y="188" width="9" height="9" fill="#004f9b"/><rect x="16" y="188" width="9" height="9" fill="#004e9c"/><rect x="24" y="188" width="9" height="9" fill="#004ea0"/><rect x="32" y="188" width="9" height="9" fill="#004da5"/><rect x="40" y="188" width="9" height="9" fill="#004ca8"/><rect x="48" y="188" width="9" height="9" fill="#0049a9"/><rect x="56" y="188" width="9" height="9" fill="#0048aa"/><rect x="64" y="188" width="9" height="9" fill="#0048aa"/><rect x="72" y="188" width="9" height="9" fill="#0045ab"/><rect x="80" y="188" width="9" height="9" fill="#0041ad"/><rect x="88" y="188" width="9" height="9" fill="#003eae"/><rect x="96" y="188" width="9" height="9" fill="#003dae"/><rect x="-16" y="196" width="9" height="9" fill="#004c99"/><rect x="-8" y="196" width="9" height="9" fill="#004e9a"/><rect x="0" y="196" width="9" height="9" fill="#00509a"/><rect x="8" y="196" width="9" height="9" fill="#00509a"/><rect x="16" y="196" width="9" height="9" fill="#004f9a"/><rect x="24" y="196" width="9" height="9" fill="#004c9c"/><rect x="32" y="196" width="9" height="9" fill="#004aa1"/><rect x="40" y="196" width="9" height="9" fill="#0049a5"/><rect x="48" y="196" width="9" height="9" fill="#0048a9"/><rect x="56" y="196" width="9" height="9" fill="#0047aa"/><rect x="64" y="196" width="9" height="9" fill="#0046aa"/><rect x="72" y="196" width="9" height="9" fill="#0040ac"/><rect x="80" y="196" width="9" height="9" fill="#003cae"/><rect x="88" y="196" width="9" height="9" fill="#003bae"/><rect x="96" y="196" width="9" height="9" fill="#003cad"/><rect x="-16" y="204" width="9" height="9" fill="#004b98"/><rect x="-8" y="204" width="9" height="9" fill="#004d99"/><rect x="0" y="204" width="9" height="9" fill="#004f9a"/><rect x="8" y="204" width="9" height="9" fill="#00509a"/><rect x="16" y="204" width="9" height="9" fill="#004e99"/><rect x="24" y="204" width="9" height="9" fill="#004a9a"/><rect x="32" y="204" width="9" height="9" fill="#00489c"/><rect x="40" y="204" width="9" height="9" fill="#0046a1"/><rect x="48" y="204" width="9" height="9" fill="#0046a6"/><rect x="56" y="204" width="9" height="9" fill="#0045a9"/><rect x="64" y="204" width="9" height="9" fill="#0040ab"/><rect x="72" y="204" width="9" height="9" fill="#003aaf"/><rect x="80" y="204" width="9" height="9" fill="#0038b0"/><rect x="88" y="204" width="9" height="9" fill="#0039af"/><rect x="96" y="204" width="9" height="9" fill="#003aae"/><rect x="-16" y="212" width="9" height="9" fill="#004995"/><rect x="-8" y="212" width="9" height="9" fill="#004b96"/><rect x="0" y="212" width="9" height="9" fill="#004c97"/><rect x="8" y="212" width="9" height="9" fill="#004c97"/><rect x="16" y="212" width="9" height="9" fill="#004895"/><rect x="24" y="212" width="9" height="9" fill="#004695"/><rect x="32" y="212" width="9" height="9" fill="#004497"/><rect x="40" y="212" width="9" height="9" fill="#00449c"/><rect x="48" y="212" width="9" height="9" fill="#0043a1"/><rect x="56" y="212" width="9" height="9" fill="#0041a7"/><rect x="64" y="212" width="9" height="9" fill="#003dac"/><rect x="72" y="212" width="9" height="9" fill="#0039af"/><rect x="80" y="212" width="9" height="9" fill="#0038b0"/><rect x="88" y="212" width="9" height="9" fill="#0039af"/><rect x="96" y="212" width="9" height="9" fill="#003aad"/><rect x="-16" y="220" width="9" height="9" fill="#004690"/><rect x="-8" y="220" width="9" height="9" fill="#004691"/><rect x="0" y="220" width="9" height="9" fill="#004692"/><rect x="8" y="220" width="9" height="9" fill="#004491"/><rect x="16" y="220" width="9" height="9" fill="#004290"/><rect x="24" y="220" width="9" height="9" fill="#004290"/><rect x="32" y="220" width="9" height="9" fill="#004292"/><rect x="40" y="220" width="9" height="9" fill="#004196"/><rect x="48" y="220" width="9" height="9" fill="#00409c"/><rect x="56" y="220" width="9" height="9" fill="#003fa2"/><rect x="64" y="220" width="9" height="9" fill="#003ca8"/><rect x="72" y="220" width="9" height="9" fill="#003aad"/><rect x="80" y="220" width="9" height="9" fill="#0039ae"/><rect x="88" y="220" width="9" height="9" fill="#0039ae"/><rect x="96" y="220" width="9" height="9" fill="#003aac"/><rect x="-16" y="228" width="9" height="9" fill="#00428a"/><rect x="-8" y="228" width="9" height="9" fill="#00428b"/><rect x="0" y="228" width="9" height="9" fill="#00428c"/><rect x="8" y="228" width="9" height="9" fill="#00418e"/><rect x="16" y="228" width="9" height="9" fill="#00418f"/><rect x="24" y="228" width="9" height="9" fill="#00418f"/><rect x="32" y="228" width="9" height="9" fill="#004090"/><rect x="40" y="228" width="9" height="9" fill="#003f92"/><rect x="48" y="228" width="9" height="9" fill="#003d96"/><rect x="56" y="228" width="9" height="9" fill="#003d9b"/><rect x="64" y="228" width="9" height="9" fill="#003ca2"/><rect x="72" y="228" width="9" height="9" fill="#003ba7"/><rect x="80" y="228" width="9" height="9" fill="#003aa9"/><rect x="88" y="228" width="9" height="9" fill="#003aa9"/><rect x="96" y="228" width="9" height="9" fill="#003ba8"/><rect x="-16" y="236" width="9" height="9" fill="#003f82"/><rect x="-8" y="236" width="9" height="9" fill="#003f82"/><rect x="0" y="236" width="9" height="9" fill="#003f84"/><rect x="8" y="236" width="9" height="9" fill="#00408a"/><rect x="16" y="236" width="9" height="9" fill="#00418e"/><rect x="24" y="236" width="9" height="9" fill="#00408e"/><rect x="32" y="236" width="9" height="9" fill="#003e8e"/><rect x="40" y="236" width="9" height="9" fill="#003b90"/><rect x="48" y="236" width="9" height="9" fill="#003a91"/><rect x="56" y="236" width="9" height="9" fill="#003a94"/><rect x="64" y="236" width="9" height="9" fill="#003b99"/><rect x="72" y="236" width="9" height="9" fill="#003b9e"/><rect x="80" y="236" width="9" height="9" fill="#003ca2"/><rect x="88" y="236" width="9" height="9" fill="#003ca3"/><rect x="96" y="236" width="9" height="9" fill="#003ca2"/><rect x="-16" y="244" width="9" height="9" fill="#003c79"/><rect x="-8" y="244" width="9" height="9" fill="#003b76"/><rect x="0" y="244" width="9" height="9" fill="#003b75"/><rect x="8" y="244" width="9" height="9" fill="#003c7a"/><rect x="16" y="244" width="9" height="9" fill="#003e84"/><rect x="24" y="244" width="9" height="9" fill="#003d8a"/><rect x="32" y="244" width="9" height="9" fill="#003a8d"/><rect x="40" y="244" width="9" height="9" fill="#00378f"/><rect x="48" y="244" width="9" height="9" fill="#00368f"/><rect x="56" y="244" width="9" height="9" fill="#003891"/><rect x="64" y="244" width="9" height="9" fill="#003a94"/><rect x="72" y="244" width="9" height="9" fill="#003b98"/><rect x="80" y="244" width="9" height="9" fill="#003c9b"/><rect x="88" y="244" width="9" height="9" fill="#003d9c"/><rect x="96" y="244" width="9" height="9" fill="#003d9d"/><rect x="-16" y="252" width="9" height="9" fill="#003b73"/><rect x="-8" y="252" width="9" height="9" fill="#00396e"/><rect x="0" y="252" width="9" height="9" fill="#00386a"/><rect x="8" y="252" width="9" height="9" fill="#00396b"/><rect x="16" y="252" width="9" height="9" fill="#003a75"/><rect x="24" y="252" width="9" height="9" fill="#003a83"/><rect x="32" y="252" width="9" height="9" fill="#00378c"/><rect x="40" y="252" width="9" height="9" fill="#00358f"/><rect x="48" y="252" width="9" height="9" fill="#00358f"/><rect x="56" y="252" width="9" height="9" fill="#00378f"/><rect x="64" y="252" width="9" height="9" fill="#003991"/><rect x="72" y="252" width="9" height="9" fill="#003c94"/><rect x="80" y="252" width="9" height="9" fill="#003d96"/><rect x="88" y="252" width="9" height="9" fill="#003e98"/><rect x="96" y="252" width="9" height="9" fill="#003e99"/><rect x="-16" y="260" width="9" height="9" fill="#003a70"/><rect x="-8" y="260" width="9" height="9" fill="#00396b"/><rect x="0" y="260" width="9" height="9" fill="#003869"/><rect x="8" y="260" width="9" height="9" fill="#003869"/><rect x="16" y="260" width="9" height="9" fill="#00396f"/><rect x="24" y="260" width="9" height="9" fill="#00397e"/><rect x="32" y="260" width="9" height="9" fill="#00378b"/><rect x="40" y="260" width="9" height="9" fill="#00368e"/><rect x="48" y="260" width="9" height="9" fill="#00368f"/><rect x="56" y="260" width="9" height="9" fill="#00378f"/><rect x="64" y="260" width="9" height="9" fill="#003a91"/><rect x="72" y="260" width="9" height="9" fill="#003d94"/><rect x="80" y="260" width="9" height="9" fill="#003e96"/><rect x="88" y="260" width="9" height="9" fill="#003e96"/><rect x="96" y="260" width="9" height="9" fill="#003f97"/><rect x="-16" y="268" width="9" height="9" fill="#003a70"/><rect x="-8" y="268" width="9" height="9" fill="#00396c"/><rect x="0" y="268" width="9" height="9" fill="#00386a"/><rect x="8" y="268" width="9" height="9" fill="#00386b"/><rect x="16" y="268" width="9" height="9" fill="#003970"/><rect x="24" y="268" width="9" height="9" fill="#003a7c"/><rect x="32" y="268" width="9" height="9" fill="#003986"/><rect x="40" y="268" width="9" height="9" fill="#00388b"/><rect x="48" y="268" width="9" height="9" fill="#00388c"/><rect x="56" y="268" width="9" height="9" fill="#003a8e"/><rect x="64" y="268" width="9" height="9" fill="#003d92"/><rect x="72" y="268" width="9" height="9" fill="#003e96"/><rect x="80" y="268" width="9" height="9" fill="#003f97"/><rect x="88" y="268" width="9" height="9" fill="#003f97"/><rect x="96" y="268" width="9" height="9" fill="#003f96"/><rect x="-16" y="276" width="9" height="9" fill="#003a72"/><rect x="-8" y="276" width="9" height="9" fill="#003a6f"/><rect x="0" y="276" width="9" height="9" fill="#00396e"/><rect x="8" y="276" width="9" height="9" fill="#003a6f"/><rect x="16" y="276" width="9" height="9" fill="#003a73"/><rect x="24" y="276" width="9" height="9" fill="#003b79"/><rect x="32" y="276" width="9" height="9" fill="#003c7e"/><rect x="40" y="276" width="9" height="9" fill="#003c81"/><rect x="48" y="276" width="9" height="9" fill="#003c85"/><rect x="56" y="276" width="9" height="9" fill="#003d8b"/><rect x="64" y="276" width="9" height="9" fill="#003e93"/><rect x="72" y="276" width="9" height="9" fill="#003f97"/><rect x="80" y="276" width="9" height="9" fill="#003f98"/><rect x="88" y="276" width="9" height="9" fill="#003f97"/><rect x="96" y="276" width="9" height="9" fill="#003f96"/><rect x="-16" y="284" width="9" height="9" fill="#003b73"/><rect x="-8" y="284" width="9" height="9" fill="#003a72"/><rect x="0" y="284" width="9" height="9" fill="#003a71"/><rect x="8" y="284" width="9" height="9" fill="#003b72"/><rect x="16" y="284" width="9" height="9" fill="#003c74"/><rect x="24" y="284" width="9" height="9" fill="#003e75"/><rect x="32" y="284" width="9" height="9" fill="#003f75"/><rect x="40" y="284" width="9" height="9" fill="#003f75"/><rect x="48" y="284" width="9" height="9" fill="#003f7a"/><rect x="56" y="284" width="9" height="9" fill="#003f84"/><rect x="64" y="284" width="9" height="9" fill="#003f91"/><rect x="72" y="284" width="9" height="9" fill="#003f97"/><rect x="80" y="284" width="9" height="9" fill="#003f98"/><rect x="88" y="284" width="9" height="9" fill="#003f97"/><rect x="96" y="284" width="9" height="9" fill="#004095"/><rect x="-16" y="292" width="9" height="9" fill="#003b73"/><rect x="-8" y="292" width="9" height="9" fill="#003b71"/><rect x="0" y="292" width="9" height="9" fill="#003b71"/><rect x="8" y="292" width="9" height="9" fill="#003c72"/><rect x="16" y="292" width="9" height="9" fill="#003d72"/><rect x="24" y="292" width="9" height="9" fill="#003f71"/><rect x="32" y="292" width="9" height="9" fill="#004170"/><rect x="40" y="292" width="9" height="9" fill="#00416f"/><rect x="48" y="292" width="9" height="9" fill="#004172"/><rect x="56" y="292" width="9" height="9" fill="#00407c"/><rect x="64" y="292" width="9" height="9" fill="#00408a"/><rect x="72" y="292" width="9" height="9" fill="#004093"/><rect x="80" y="292" width="9" height="9" fill="#004095"/><rect x="88" y="292" width="9" height="9" fill="#004095"/><rect x="96" y="292" width="9" height="9" fill="#004193"/><rect x="-16" y="300" width="9" height="9" fill="#003a70"/><rect x="-8" y="300" width="9" height="9" fill="#003a6e"/><rect x="0" y="300" width="9" height="9" fill="#003a6d"/><rect x="8" y="300" width="9" height="9" fill="#003b6e"/><rect x="16" y="300" width="9" height="9" fill="#003d6f"/><rect x="24" y="300" width="9" height="9" fill="#004070"/><rect x="32" y="300" width="9" height="9" fill="#00416f"/><rect x="40" y="300" width="9" height="9" fill="#00416e"/><rect x="48" y="300" width="9" height="9" fill="#004170"/><rect x="56" y="300" width="9" height="9" fill="#004178"/><rect x="64" y="300" width="9" height="9" fill="#004284"/><rect x="72" y="300" width="9" height="9" fill="#00438c"/><rect x="80" y="300" width="9" height="9" fill="#004390"/><rect x="88" y="300" width="9" height="9" fill="#004390"/><rect x="96" y="300" width="9" height="9" fill="#004390"/><rect x="-16" y="308" width="9" height="9" fill="#00396b"/><rect x="-8" y="308" width="9" height="9" fill="#003869"/><rect x="0" y="308" width="9" height="9" fill="#003867"/><rect x="8" y="308" width="9" height="9" fill="#003968"/><rect x="16" y="308" width="9" height="9" fill="#003b6b"/><rect x="24" y="308" width="9" height="9" fill="#003e6e"/><rect x="32" y="308" width="9" height="9" fill="#00406f"/><rect x="40" y="308" width="9" height="9" fill="#00416f"/><rect x="48" y="308" width="9" height="9" fill="#004172"/><rect x="56" y="308" width="9" height="9" fill="#00437a"/><rect x="64" y="308" width="9" height="9" fill="#004684"/><rect x="72" y="308" width="9" height="9" fill="#00488a"/><rect x="80" y="308" width="9" height="9" fill="#00488c"/><rect x="88" y="308" width="9" height="9" fill="#00478c"/><rect x="96" y="308" width="9" height="9" fill="#00468c"/><rect x="-16" y="316" width="9" height="9" fill="#003867"/><rect x="-8" y="316" width="9" height="9" fill="#003764"/><rect x="0" y="316" width="9" height="9" fill="#003662"/><rect x="8" y="316" width="9" height="9" fill="#003662"/><rect x="16" y="316" width="9" height="9" fill="#003864"/><rect x="24" y="316" width="9" height="9" fill="#003b6a"/><rect x="32" y="316" width="9" height="9" fill="#003f6f"/><rect x="40" y="316" width="9" height="9" fill="#004071"/><rect x="48" y="316" width="9" height="9" fill="#004276"/><rect x="56" y="316" width="9" height="9" fill="#00467f"/><rect x="64" y="316" width="9" height="9" fill="#004b88"/><rect x="72" y="316" width="9" height="9" fill="#004d8c"/><rect x="80" y="316" width="9" height="9" fill="#004d8c"/><rect x="88" y="316" width="9" height="9" fill="#004b8b"/><rect x="96" y="316" width="9" height="9" fill="#00498a"/><rect x="-16" y="324" width="9" height="9" fill="#003765"/><rect x="-8" y="324" width="9" height="9" fill="#003662"/><rect x="0" y="324" width="9" height="9" fill="#003560"/><rect x="8" y="324" width="9" height="9" fill="#00355f"/><rect x="16" y="324" width="9" height="9" fill="#003661"/><rect x="24" y="324" width="9" height="9" fill="#003966"/><rect x="32" y="324" width="9" height="9" fill="#003c6c"/><rect x="40" y="324" width="9" height="9" fill="#003f72"/><rect x="48" y="324" width="9" height="9" fill="#004379"/><rect x="56" y="324" width="9" height="9" fill="#004983"/><rect x="64" y="324" width="9" height="9" fill="#004e8c"/><rect x="72" y="324" width="9" height="9" fill="#00508e"/><rect x="80" y="324" width="9" height="9" fill="#004f8e"/><rect x="88" y="324" width="9" height="9" fill="#004d8c"/><rect x="96" y="324" width="9" height="9" fill="#004b89"/><rect x="-16" y="332" width="9" height="9" fill="#003764"/><rect x="-8" y="332" width="9" height="9" fill="#003661"/><rect x="0" y="332" width="9" height="9" fill="#00355f"/><rect x="8" y="332" width="9" height="9" fill="#00355f"/><rect x="16" y="332" width="9" height="9" fill="#003660"/><rect x="24" y="332" width="9" height="9" fill="#003864"/><rect x="32" y="332" width="9" height="9" fill="#003a6a"/><rect x="40" y="332" width="9" height="9" fill="#003d6f"/><rect x="48" y="332" width="9" height="9" fill="#004277"/><rect x="56" y="332" width="9" height="9" fill="#004882"/><rect x="64" y="332" width="9" height="9" fill="#004e8b"/><rect x="72" y="332" width="9" height="9" fill="#00508e"/><rect x="80" y="332" width="9" height="9" fill="#004f8e"/><rect x="88" y="332" width="9" height="9" fill="#004d8a"/><rect x="96" y="332" width="9" height="9" fill="#004a86"/><rect x="-16" y="340" width="9" height="9" fill="#003765"/><rect x="-8" y="340" width="9" height="9" fill="#003662"/><rect x="0" y="340" width="9" height="9" fill="#003660"/><rect x="8" y="340" width="9" height="9" fill="#003560"/><rect x="16" y="340" width="9" height="9" fill="#003661"/><rect x="24" y="340" width="9" height="9" fill="#003764"/><rect x="32" y="340" width="9" height="9" fill="#003966"/><rect x="40" y="340" width="9" height="9" fill="#003a68"/><rect x="48" y="340" width="9" height="9" fill="#003e6f"/><rect x="56" y="340" width="9" height="9" fill="#00457a"/><rect x="64" y="340" width="9" height="9" fill="#004a84"/><rect x="72" y="340" width="9" height="9" fill="#004d88"/><rect x="80" y="340" width="9" height="9" fill="#004c86"/><rect x="88" y="340" width="9" height="9" fill="#004a82"/><rect x="96" y="340" width="9" height="9" fill="#004981"/><rect x="-16" y="348" width="9" height="9" fill="#003866"/><rect x="-8" y="348" width="9" height="9" fill="#003764"/><rect x="0" y="348" width="9" height="9" fill="#003663"/><rect x="8" y="348" width="9" height="9" fill="#003662"/><rect x="16" y="348" width="9" height="9" fill="#003763"/><rect x="24" y="348" width="9" height="9" fill="#003763"/><rect x="32" y="348" width="9" height="9" fill="#003661"/><rect x="40" y="348" width="9" height="9" fill="#003661"/><rect x="48" y="348" width="9" height="9" fill="#003965"/><rect x="56" y="348" width="9" height="9" fill="#003f70"/><rect x="64" y="348" width="9" height="9" fill="#004578"/><rect x="72" y="348" width="9" height="9" fill="#004678"/><rect x="80" y="348" width="9" height="9" fill="#004576"/><rect x="88" y="348" width="9" height="9" fill="#004677"/><rect x="96" y="348" width="9" height="9" fill="#00477c"/><rect x="-16" y="356" width="9" height="9" fill="#003868"/><rect x="-8" y="356" width="9" height="9" fill="#003866"/><rect x="0" y="356" width="9" height="9" fill="#003765"/><rect x="8" y="356" width="9" height="9" fill="#003764"/><rect x="16" y="356" width="9" height="9" fill="#003763"/><rect x="24" y="356" width="9" height="9" fill="#003661"/><rect x="32" y="356" width="9" height="9" fill="#00355f"/><rect x="40" y="356" width="9" height="9" fill="#00355e"/><rect x="48" y="356" width="9" height="9" fill="#003660"/><rect x="56" y="356" width="9" height="9" fill="#003c6a"/><rect x="64" y="356" width="9" height="9" fill="#004272"/><rect x="72" y="356" width="9" height="9" fill="#004371"/><rect x="80" y="356" width="9" height="9" fill="#004370"/><rect x="88" y="356" width="9" height="9" fill="#004473"/><rect x="96" y="356" width="9" height="9" fill="#00477a"/><rect x="-16" y="364" width="9" height="9" fill="#00396a"/><rect x="-8" y="364" width="9" height="9" fill="#003969"/><rect x="0" y="364" width="9" height="9" fill="#003867"/><rect x="8" y="364" width="9" height="9" fill="#003866"/><rect x="16" y="364" width="9" height="9" fill="#003764"/><rect x="24" y="364" width="9" height="9" fill="#003661"/><rect x="32" y="364" width="9" height="9" fill="#00355f"/><rect x="40" y="364" width="9" height="9" fill="#00355e"/><rect x="48" y="364" width="9" height="9" fill="#003660"/><rect x="56" y="364" width="9" height="9" fill="#003b68"/><rect x="64" y="364" width="9" height="9" fill="#004170"/><rect x="72" y="364" width="9" height="9" fill="#004371"/><rect x="80" y="364" width="9" height="9" fill="#004370"/><rect x="88" y="364" width="9" height="9" fill="#004473"/><rect x="96" y="364" width="9" height="9" fill="#00487c"/><rect x="-16" y="372" width="9" height="9" fill="#003a6c"/><rect x="-8" y="372" width="9" height="9" fill="#00396b"/><rect x="0" y="372" width="9" height="9" fill="#003969"/><rect x="8" y="372" width="9" height="9" fill="#003967"/><rect x="16" y="372" width="9" height="9" fill="#003865"/><rect x="24" y="372" width="9" height="9" fill="#003762"/><rect x="32" y="372" width="9" height="9" fill="#003661"/><rect x="40" y="372" width="9" height="9" fill="#003660"/><rect x="48" y="372" width="9" height="9" fill="#003863"/><rect x="56" y="372" width="9" height="9" fill="#003c69"/><rect x="64" y="372" width="9" height="9" fill="#004170"/><rect x="72" y="372" width="9" height="9" fill="#004372"/><rect x="80" y="372" width="9" height="9" fill="#004472"/><rect x="88" y="372" width="9" height="9" fill="#004576"/><rect x="96" y="372" width="9" height="9" fill="#00487d"/><rect x="-16" y="380" width="9" height="9" fill="#003a6e"/><rect x="-8" y="380" width="9" height="9" fill="#003a6c"/><rect x="0" y="380" width="9" height="9" fill="#003a6b"/><rect x="8" y="380" width="9" height="9" fill="#003969"/><rect x="16" y="380" width="9" height="9" fill="#003967"/><rect x="24" y="380" width="9" height="9" fill="#003865"/><rect x="32" y="380" width="9" height="9" fill="#003864"/><rect x="40" y="380" width="9" height="9" fill="#003864"/><rect x="48" y="380" width="9" height="9" fill="#003a67"/><rect x="56" y="380" width="9" height="9" fill="#003d6c"/><rect x="64" y="380" width="9" height="9" fill="#004170"/><rect x="72" y="380" width="9" height="9" fill="#004373"/><rect x="80" y="380" width="9" height="9" fill="#004475"/><rect x="88" y="380" width="9" height="9" fill="#004679"/><rect x="96" y="380" width="9" height="9" fill="#00487d"/><rect x="-16" y="388" width="9" height="9" fill="#003b70"/><rect x="-8" y="388" width="9" height="9" fill="#003b6e"/><rect x="0" y="388" width="9" height="9" fill="#003a6d"/><rect x="8" y="388" width="9" height="9" fill="#003a6b"/><rect x="16" y="388" width="9" height="9" fill="#003a6a"/><rect x="24" y="388" width="9" height="9" fill="#003a68"/><rect x="32" y="388" width="9" height="9" fill="#003a68"/><rect x="40" y="388" width="9" height="9" fill="#003a69"/><rect x="48" y="388" width="9" height="9" fill="#003c6b"/><rect x="56" y="388" width="9" height="9" fill="#003e6e"/><rect x="64" y="388" width="9" height="9" fill="#004172"/><rect x="72" y="388" width="9" height="9" fill="#004375"/><rect x="80" y="388" width="9" height="9" fill="#004477"/><rect x="88" y="388" width="9" height="9" fill="#00467a"/><rect x="96" y="388" width="9" height="9" fill="#00487d"/><rect x="564" y="92" width="9" height="9" fill="#0030c5"/><rect x="572" y="92" width="9" height="9" fill="#002fc4"/><rect x="580" y="92" width="9" height="9" fill="#002dc5"/><rect x="588" y="92" width="9" height="9" fill="#002ac7"/><rect x="596" y="92" width="9" height="9" fill="#0029c8"/><rect x="604" y="92" width="9" height="9" fill="#002ac8"/><rect x="612" y="92" width="9" height="9" fill="#0030c8"/><rect x="620" y="92" width="9" height="9" fill="#0032c8"/><rect x="628" y="92" width="9" height="9" fill="#0032c8"/><rect x="636" y="92" width="9" height="9" fill="#0032c7"/><rect x="644" y="92" width="9" height="9" fill="#0032c6"/><rect x="652" y="92" width="9" height="9" fill="#0033c5"/><rect x="660" y="92" width="9" height="9" fill="#0033c4"/><rect x="668" y="92" width="9" height="9" fill="#0034c3"/><rect x="676" y="92" width="9" height="9" fill="#0034c2"/><rect x="564" y="100" width="9" height="9" fill="#0030c3"/><rect x="572" y="100" width="9" height="9" fill="#0030c2"/><rect x="580" y="100" width="9" height="9" fill="#002fc3"/><rect x="588" y="100" width="9" height="9" fill="#002dc5"/><rect x="596" y="100" width="9" height="9" fill="#002cc6"/><rect x="604" y="100" width="9" height="9" fill="#002fc7"/><rect x="612" y="100" width="9" height="9" fill="#0032c8"/><rect x="620" y="100" width="9" height="9" fill="#0033c8"/><rect x="628" y="100" width="9" height="9" fill="#0033c8"/><rect x="636" y="100" width="9" height="9" fill="#0033c7"/><rect x="644" y="100" width="9" height="9" fill="#0033c6"/><rect x="652" y="100" width="9" height="9" fill="#0034c6"/><rect x="660" y="100" width="9" height="9" fill="#0034c5"/><rect x="668" y="100" width="9" height="9" fill="#0034c4"/><rect x="676" y="100" width="9" height="9" fill="#0035c3"/><rect x="564" y="108" width="9" height="9" fill="#0030c1"/><rect x="572" y="108" width="9" height="9" fill="#0030c0"/><rect x="580" y="108" width="9" height="9" fill="#0030c1"/><rect x="588" y="108" width="9" height="9" fill="#002fc2"/><rect x="596" y="108" width="9" height="9" fill="#002fc4"/><rect x="604" y="108" width="9" height="9" fill="#0030c6"/><rect x="612" y="108" width="9" height="9" fill="#0032c7"/><rect x="620" y="108" width="9" height="9" fill="#0033c8"/><rect x="628" y="108" width="9" height="9" fill="#0033c7"/><rect x="636" y="108" width="9" height="9" fill="#0033c7"/><rect x="644" y="108" width="9" height="9" fill="#0034c7"/><rect x="652" y="108" width="9" height="9" fill="#0034c7"/><rect x="660" y="108" width="9" height="9" fill="#0035c6"/><rect x="668" y="108" width="9" height="9" fill="#0035c6"/><rect x="676" y="108" width="9" height="9" fill="#0035c4"/><rect x="564" y="116" width="9" height="9" fill="#0030c1"/><rect x="572" y="116" width="9" height="9" fill="#0030c0"/><rect x="580" y="116" width="9" height="9" fill="#0030c0"/><rect x="588" y="116" width="9" height="9" fill="#0030c1"/><rect x="596" y="116" width="9" height="9" fill="#0030c3"/><rect x="604" y="116" width="9" height="9" fill="#0031c5"/><rect x="612" y="116" width="9" height="9" fill="#0032c6"/><rect x="620" y="116" width="9" height="9" fill="#0033c7"/><rect x="628" y="116" width="9" height="9" fill="#0033c7"/><rect x="636" y="116" width="9" height="9" fill="#0034c7"/><rect x="644" y="116" width="9" height="9" fill="#0035c7"/><rect x="652" y="116" width="9" height="9" fill="#0035c8"/><rect x="660" y="116" width="9" height="9" fill="#0035c7"/><rect x="668" y="116" width="9" height="9" fill="#0035c6"/><rect x="676" y="116" width="9" height="9" fill="#0035c5"/><rect x="564" y="124" width="9" height="9" fill="#0030c1"/><rect x="572" y="124" width="9" height="9" fill="#0030c0"/><rect x="580" y="124" width="9" height="9" fill="#0030c0"/><rect x="588" y="124" width="9" height="9" fill="#0030c2"/><rect x="596" y="124" width="9" height="9" fill="#0031c3"/><rect x="604" y="124" width="9" height="9" fill="#0031c5"/><rect x="612" y="124" width="9" height="9" fill="#0032c5"/><rect x="620" y="124" width="9" height="9" fill="#0033c6"/><rect x="628" y="124" width="9" height="9" fill="#0034c6"/><rect x="636" y="124" width="9" height="9" fill="#0035c7"/><rect x="644" y="124" width="9" height="9" fill="#0035c8"/><rect x="652" y="124" width="9" height="9" fill="#0035c8"/><rect x="660" y="124" width="9" height="9" fill="#0035c8"/><rect x="668" y="124" width="9" height="9" fill="#0035c7"/><rect x="676" y="124" width="9" height="9" fill="#0035c6"/><rect x="564" y="132" width="9" height="9" fill="#0031c2"/><rect x="572" y="132" width="9" height="9" fill="#0030c2"/><rect x="580" y="132" width="9" height="9" fill="#0030c3"/><rect x="588" y="132" width="9" height="9" fill="#0030c4"/><rect x="596" y="132" width="9" height="9" fill="#0031c5"/><rect x="604" y="132" width="9" height="9" fill="#0031c5"/><rect x="612" y="132" width="9" height="9" fill="#0032c5"/><rect x="620" y="132" width="9" height="9" fill="#0033c5"/><rect x="628" y="132" width="9" height="9" fill="#0034c6"/><rect x="636" y="132" width="9" height="9" fill="#0035c7"/><rect x="644" y="132" width="9" height="9" fill="#0035c8"/><rect x="652" y="132" width="9" height="9" fill="#0035c8"/><rect x="660" y="132" width="9" height="9" fill="#0035c8"/><rect x="668" y="132" width="9" height="9" fill="#0035c7"/><rect x="676" y="132" width="9" height="9" fill="#0035c5"/><rect x="564" y="140" width="9" height="9" fill="#0031c3"/><rect x="572" y="140" width="9" height="9" fill="#0031c5"/><rect x="580" y="140" width="9" height="9" fill="#0030c6"/><rect x="588" y="140" width="9" height="9" fill="#0030c7"/><rect x="596" y="140" width="9" height="9" fill="#0030c7"/><rect x="604" y="140" width="9" height="9" fill="#0031c6"/><rect x="612" y="140" width="9" height="9" fill="#0032c5"/><rect x="620" y="140" width="9" height="9" fill="#0034c5"/><rect x="628" y="140" width="9" height="9" fill="#0035c5"/><rect x="636" y="140" width="9" height="9" fill="#0035c6"/><rect x="644" y="140" width="9" height="9" fill="#0035c7"/><rect x="652" y="140" width="9" height="9" fill="#0035c7"/><rect x="660" y="140" width="9" height="9" fill="#0035c7"/><rect x="668" y="140" width="9" height="9" fill="#0036c6"/><rect x="676" y="140" width="9" height="9" fill="#0036c5"/><rect x="564" y="148" width="9" height="9" fill="#0032c4"/><rect x="572" y="148" width="9" height="9" fill="#0031c6"/><rect x="580" y="148" width="9" height="9" fill="#0030c7"/><rect x="588" y="148" width="9" height="9" fill="#0030c8"/><rect x="596" y="148" width="9" height="9" fill="#0030c8"/><rect x="604" y="148" width="9" height="9" fill="#0031c7"/><rect x="612" y="148" width="9" height="9" fill="#0033c5"/><rect x="620" y="148" width="9" height="9" fill="#0034c4"/><rect x="628" y="148" width="9" height="9" fill="#0035c4"/><rect x="636" y="148" width="9" height="9" fill="#0036c4"/><rect x="644" y="148" width="9" height="9" fill="#0036c5"/><rect x="652" y="148" width="9" height="9" fill="#0036c5"/><rect x="660" y="148" width="9" height="9" fill="#0036c5"/><rect x="668" y="148" width="9" height="9" fill="#0036c4"/><rect x="676" y="148" width="9" height="9" fill="#0037c3"/><rect x="564" y="156" width="9" height="9" fill="#0032c4"/><rect x="572" y="156" width="9" height="9" fill="#0031c6"/><rect x="580" y="156" width="9" height="9" fill="#0030c7"/><rect x="588" y="156" width="9" height="9" fill="#0030c8"/><rect x="596" y="156" width="9" height="9" fill="#0030c7"/><rect x="604" y="156" width="9" height="9" fill="#0032c6"/><rect x="612" y="156" width="9" height="9" fill="#0034c4"/><rect x="620" y="156" width="9" height="9" fill="#0036c3"/><rect x="628" y="156" width="9" height="9" fill="#0037c2"/><rect x="636" y="156" width="9" height="9" fill="#0037c2"/><rect x="644" y="156" width="9" height="9" fill="#0037c2"/><rect x="652" y="156" width="9" height="9" fill="#0037c2"/><rect x="660" y="156" width="9" height="9" fill="#0037c2"/><rect x="668" y="156" width="9" height="9" fill="#0037c2"/><rect x="676" y="156" width="9" height="9" fill="#0037c1"/><rect x="564" y="164" width="9" height="9" fill="#0033c3"/><rect x="572" y="164" width="9" height="9" fill="#0032c5"/><rect x="580" y="164" width="9" height="9" fill="#0031c6"/><rect x="588" y="164" width="9" height="9" fill="#0031c7"/><rect x="596" y="164" width="9" height="9" fill="#0032c6"/><rect x="604" y="164" width="9" height="9" fill="#0034c4"/><rect x="612" y="164" width="9" height="9" fill="#0036c2"/><rect x="620" y="164" width="9" height="9" fill="#0038c1"/><rect x="628" y="164" width="9" height="9" fill="#0038c0"/><rect x="636" y="164" width="9" height="9" fill="#0038c0"/><rect x="644" y="164" width="9" height="9" fill="#0038c0"/><rect x="652" y="164" width="9" height="9" fill="#0038c0"/><rect x="660" y="164" width="9" height="9" fill="#0038c0"/><rect x="668" y="164" width="9" height="9" fill="#0038c0"/><rect x="676" y="164" width="9" height="9" fill="#0038c0"/><rect x="564" y="172" width="9" height="9" fill="#0034c1"/><rect x="572" y="172" width="9" height="9" fill="#0034c2"/><rect x="580" y="172" width="9" height="9" fill="#0033c4"/><rect x="588" y="172" width="9" height="9" fill="#0034c4"/><rect x="596" y="172" width="9" height="9" fill="#0035c3"/><rect x="604" y="172" width="9" height="9" fill="#0037c2"/><rect x="612" y="172" width="9" height="9" fill="#003ac0"/><rect x="620" y="172" width="9" height="9" fill="#003bbf"/><rect x="628" y="172" width="9" height="9" fill="#003abf"/><rect x="636" y="172" width="9" height="9" fill="#0039c0"/><rect x="644" y="172" width="9" height="9" fill="#0038c0"/><rect x="652" y="172" width="9" height="9" fill="#0038c0"/><rect x="660" y="172" width="9" height="9" fill="#0038c0"/><rect x="668" y="172" width="9" height="9" fill="#0038c0"/><rect x="676" y="172" width="9" height="9" fill="#0039bf"/><rect x="564" y="180" width="9" height="9" fill="#0036be"/><rect x="572" y="180" width="9" height="9" fill="#0036bf"/><rect x="580" y="180" width="9" height="9" fill="#0036c0"/><rect x="588" y="180" width="9" height="9" fill="#0037c0"/><rect x="596" y="180" width="9" height="9" fill="#0039c0"/><rect x="604" y="180" width="9" height="9" fill="#003cbf"/><rect x="612" y="180" width="9" height="9" fill="#003ebe"/><rect x="620" y="180" width="9" height="9" fill="#003ebe"/><rect x="628" y="180" width="9" height="9" fill="#003dbf"/><rect x="636" y="180" width="9" height="9" fill="#003abf"/><rect x="644" y="180" width="9" height="9" fill="#0038c0"/><rect x="652" y="180" width="9" height="9" fill="#0038c0"/><rect x="660" y="180" width="9" height="9" fill="#0038c0"/><rect x="668" y="180" width="9" height="9" fill="#0039bf"/><rect x="676" y="180" width="9" height="9" fill="#0039bf"/><rect x="564" y="188" width="9" height="9" fill="#0038bb"/><rect x="572" y="188" width="9" height="9" fill="#0038bc"/><rect x="580" y="188" width="9" height="9" fill="#0039bd"/><rect x="588" y="188" width="9" height="9" fill="#003abd"/><rect x="596" y="188" width="9" height="9" fill="#003dbd"/><rect x="604" y="188" width="9" height="9" fill="#003fbe"/><rect x="612" y="188" width="9" height="9" fill="#0041be"/><rect x="620" y="188" width="9" height="9" fill="#0041be"/><rect x="628" y="188" width="9" height="9" fill="#0040be"/><rect x="636" y="188" width="9" height="9" fill="#003cbf"/><rect x="644" y="188" width="9" height="9" fill="#0039c0"/><rect x="652" y="188" width="9" height="9" fill="#0038c0"/><rect x="660" y="188" width="9" height="9" fill="#0038c0"/><rect x="668" y="188" width="9" height="9" fill="#0039bf"/><rect x="676" y="188" width="9" height="9" fill="#003abe"/><rect x="564" y="196" width="9" height="9" fill="#0039b7"/><rect x="572" y="196" width="9" height="9" fill="#0039b8"/><rect x="580" y="196" width="9" height="9" fill="#003ab9"/><rect x="588" y="196" width="9" height="9" fill="#003cbb"/><rect x="596" y="196" width="9" height="9" fill="#003ebc"/><rect x="604" y="196" width="9" height="9" fill="#0041bd"/><rect x="612" y="196" width="9" height="9" fill="#0042be"/><rect x="620" y="196" width="9" height="9" fill="#0042be"/><rect x="628" y="196" width="9" height="9" fill="#0041be"/><rect x="636" y="196" width="9" height="9" fill="#003fbe"/><rect x="644" y="196" width="9" height="9" fill="#003bbe"/><rect x="652" y="196" width="9" height="9" fill="#003abf"/><rect x="660" y="196" width="9" height="9" fill="#003abe"/><rect x="668" y="196" width="9" height="9" fill="#003abd"/><rect x="676" y="196" width="9" height="9" fill="#003bbc"/><rect x="564" y="204" width="9" height="9" fill="#0039b4"/><rect x="572" y="204" width="9" height="9" fill="#003ab5"/><rect x="580" y="204" width="9" height="9" fill="#003bb6"/><rect x="588" y="204" width="9" height="9" fill="#003cb8"/><rect x="596" y="204" width="9" height="9" fill="#003fba"/><rect x="604" y="204" width="9" height="9" fill="#0041bd"/><rect x="612" y="204" width="9" height="9" fill="#0042be"/><rect x="620" y="204" width="9" height="9" fill="#0042be"/><rect x="628" y="204" width="9" height="9" fill="#0041be"/><rect x="636" y="204" width="9" height="9" fill="#0040bd"/><rect x="644" y="204" width="9" height="9" fill="#003ebc"/><rect x="652" y="204" width="9" height="9" fill="#003cbc"/><rect x="660" y="204" width="9" height="9" fill="#003cbc"/><rect x="668" y="204" width="9" height="9" fill="#003cbb"/><rect x="676" y="204" width="9" height="9" fill="#003dba"/><rect x="564" y="212" width="9" height="9" fill="#0039b0"/><rect x="572" y="212" width="9" height="9" fill="#0039b1"/><rect x="580" y="212" width="9" height="9" fill="#003ab2"/><rect x="588" y="212" width="9" height="9" fill="#003bb4"/><rect x="596" y="212" width="9" height="9" fill="#003db7"/><rect x="604" y="212" width="9" height="9" fill="#0040ba"/><rect x="612" y="212" width="9" height="9" fill="#0041bc"/><rect x="620" y="212" width="9" height="9" fill="#0041bd"/><rect x="628" y="212" width="9" height="9" fill="#0041bc"/><rect x="636" y="212" width="9" height="9" fill="#0041bb"/><rect x="644" y="212" width="9" height="9" fill="#0040b9"/><rect x="652" y="212" width="9" height="9" fill="#0040b9"/><rect x="660" y="212" width="9" height="9" fill="#0040b8"/><rect x="668" y="212" width="9" height="9" fill="#0040b7"/><rect x="676" y="212" width="9" height="9" fill="#0040b6"/><rect x="564" y="220" width="9" height="9" fill="#0038ad"/><rect x="572" y="220" width="9" height="9" fill="#0037ae"/><rect x="580" y="220" width="9" height="9" fill="#0037ae"/><rect x="588" y="220" width="9" height="9" fill="#0038b0"/><rect x="596" y="220" width="9" height="9" fill="#003ab2"/><rect x="604" y="220" width="9" height="9" fill="#003db5"/><rect x="612" y="220" width="9" height="9" fill="#003fb8"/><rect x="620" y="220" width="9" height="9" fill="#0040b9"/><rect x="628" y="220" width="9" height="9" fill="#0041b9"/><rect x="636" y="220" width="9" height="9" fill="#0042b7"/><rect x="644" y="220" width="9" height="9" fill="#0043b5"/><rect x="652" y="220" width="9" height="9" fill="#0043b4"/><rect x="660" y="220" width="9" height="9" fill="#0043b4"/><rect x="668" y="220" width="9" height="9" fill="#0043b4"/><rect x="676" y="220" width="9" height="9" fill="#0043b3"/><rect x="564" y="228" width="9" height="9" fill="#0037ab"/><rect x="572" y="228" width="9" height="9" fill="#0035ab"/><rect x="580" y="228" width="9" height="9" fill="#0034ab"/><rect x="588" y="228" width="9" height="9" fill="#0034ac"/><rect x="596" y="228" width="9" height="9" fill="#0036ad"/><rect x="604" y="228" width="9" height="9" fill="#0039af"/><rect x="612" y="228" width="9" height="9" fill="#003db2"/><rect x="620" y="228" width="9" height="9" fill="#0040b4"/><rect x="628" y="228" width="9" height="9" fill="#0042b4"/><rect x="636" y="228" width="9" height="9" fill="#0044b3"/><rect x="644" y="228" width="9" height="9" fill="#0046b2"/><rect x="652" y="228" width="9" height="9" fill="#0047b1"/><rect x="660" y="228" width="9" height="9" fill="#0047b1"/><rect x="668" y="228" width="9" height="9" fill="#0046b1"/><rect x="676" y="228" width="9" height="9" fill="#0045b1"/><rect x="564" y="236" width="9" height="9" fill="#0035a9"/><rect x="572" y="236" width="9" height="9" fill="#0033aa"/><rect x="580" y="236" width="9" height="9" fill="#0032aa"/><rect x="588" y="236" width="9" height="9" fill="#0031aa"/><rect x="596" y="236" width="9" height="9" fill="#0032ab"/><rect x="604" y="236" width="9" height="9" fill="#0035ac"/><rect x="612" y="236" width="9" height="9" fill="#003aad"/><rect x="620" y="236" width="9" height="9" fill="#003faf"/><rect x="628" y="236" width="9" height="9" fill="#0044b0"/><rect x="636" y="236" width="9" height="9" fill="#0047b0"/><rect x="644" y="236" width="9" height="9" fill="#0049b0"/><rect x="652" y="236" width="9" height="9" fill="#0049b0"/><rect x="660" y="236" width="9" height="9" fill="#0049b0"/><rect x="668" y="236" width="9" height="9" fill="#0048b0"/><rect x="676" y="236" width="9" height="9" fill="#0047b0"/><rect x="564" y="244" width="9" height="9" fill="#0035a8"/><rect x="572" y="244" width="9" height="9" fill="#0032a9"/><rect x="580" y="244" width="9" height="9" fill="#0031aa"/><rect x="588" y="244" width="9" height="9" fill="#0030aa"/><rect x="596" y="244" width="9" height="9" fill="#0031aa"/><rect x="604" y="244" width="9" height="9" fill="#0034aa"/><rect x="612" y="244" width="9" height="9" fill="#0039ab"/><rect x="620" y="244" width="9" height="9" fill="#0040ac"/><rect x="628" y="244" width="9" height="9" fill="#0045ae"/><rect x="636" y="244" width="9" height="9" fill="#0048af"/><rect x="644" y="244" width="9" height="9" fill="#004ab0"/><rect x="652" y="244" width="9" height="9" fill="#004ab0"/><rect x="660" y="244" width="9" height="9" fill="#004ab0"/><rect x="668" y="244" width="9" height="9" fill="#0049af"/><rect x="676" y="244" width="9" height="9" fill="#0048af"/><rect x="564" y="252" width="9" height="9" fill="#0035a6"/><rect x="572" y="252" width="9" height="9" fill="#0033a8"/><rect x="580" y="252" width="9" height="9" fill="#0031aa"/><rect x="588" y="252" width="9" height="9" fill="#0030aa"/><rect x="596" y="252" width="9" height="9" fill="#0031aa"/><rect x="604" y="252" width="9" height="9" fill="#0034a9"/><rect x="612" y="252" width="9" height="9" fill="#003aa9"/><rect x="620" y="252" width="9" height="9" fill="#0041aa"/><rect x="628" y="252" width="9" height="9" fill="#0046ad"/><rect x="636" y="252" width="9" height="9" fill="#0049af"/><rect x="644" y="252" width="9" height="9" fill="#004ab0"/><rect x="652" y="252" width="9" height="9" fill="#004ab0"/><rect x="660" y="252" width="9" height="9" fill="#004ab0"/><rect x="668" y="252" width="9" height="9" fill="#0049af"/><rect x="676" y="252" width="9" height="9" fill="#0049ae"/><rect x="564" y="260" width="9" height="9" fill="#0037a4"/><rect x="572" y="260" width="9" height="9" fill="#0034a6"/><rect x="580" y="260" width="9" height="9" fill="#0032a8"/><rect x="588" y="260" width="9" height="9" fill="#0032a9"/><rect x="596" y="260" width="9" height="9" fill="#0033a9"/><rect x="604" y="260" width="9" height="9" fill="#0037a8"/><rect x="612" y="260" width="9" height="9" fill="#003ea8"/><rect x="620" y="260" width="9" height="9" fill="#0043a8"/><rect x="628" y="260" width="9" height="9" fill="#0047aa"/><rect x="636" y="260" width="9" height="9" fill="#0049ad"/><rect x="644" y="260" width="9" height="9" fill="#004aaf"/><rect x="652" y="260" width="9" height="9" fill="#004aaf"/><rect x="660" y="260" width="9" height="9" fill="#004aaf"/><rect x="668" y="260" width="9" height="9" fill="#004aae"/><rect x="676" y="260" width="9" height="9" fill="#0049ad"/><rect x="564" y="268" width="9" height="9" fill="#00399f"/><rect x="572" y="268" width="9" height="9" fill="#0038a2"/><rect x="580" y="268" width="9" height="9" fill="#0036a4"/><rect x="588" y="268" width="9" height="9" fill="#0036a5"/><rect x="596" y="268" width="9" height="9" fill="#0039a6"/><rect x="604" y="268" width="9" height="9" fill="#003ea6"/><rect x="612" y="268" width="9" height="9" fill="#0043a6"/><rect x="620" y="268" width="9" height="9" fill="#0046a7"/><rect x="628" y="268" width="9" height="9" fill="#0048a8"/><rect x="636" y="268" width="9" height="9" fill="#0049aa"/><rect x="644" y="268" width="9" height="9" fill="#004aac"/><rect x="652" y="268" width="9" height="9" fill="#004aad"/><rect x="660" y="268" width="9" height="9" fill="#004aad"/><rect x="668" y="268" width="9" height="9" fill="#004aac"/><rect x="676" y="268" width="9" height="9" fill="#004aab"/><rect x="564" y="276" width="9" height="9" fill="#003b9b"/><rect x="572" y="276" width="9" height="9" fill="#003b9c"/><rect x="580" y="276" width="9" height="9" fill="#003b9d"/><rect x="588" y="276" width="9" height="9" fill="#003c9f"/><rect x="596" y="276" width="9" height="9" fill="#003fa2"/><rect x="604" y="276" width="9" height="9" fill="#0044a4"/><rect x="612" y="276" width="9" height="9" fill="#0048a6"/><rect x="620" y="276" width="9" height="9" fill="#0049a7"/><rect x="628" y="276" width="9" height="9" fill="#0049a7"/><rect x="636" y="276" width="9" height="9" fill="#004aa7"/><rect x="644" y="276" width="9" height="9" fill="#004ba8"/><rect x="652" y="276" width="9" height="9" fill="#004ca9"/><rect x="660" y="276" width="9" height="9" fill="#004ca9"/><rect x="668" y="276" width="9" height="9" fill="#004ca9"/><rect x="676" y="276" width="9" height="9" fill="#004ca8"/><rect x="564" y="284" width="9" height="9" fill="#003b98"/><rect x="572" y="284" width="9" height="9" fill="#003b98"/><rect x="580" y="284" width="9" height="9" fill="#003b99"/><rect x="588" y="284" width="9" height="9" fill="#003d9b"/><rect x="596" y="284" width="9" height="9" fill="#00429f"/><rect x="604" y="284" width="9" height="9" fill="#0047a4"/><rect x="612" y="284" width="9" height="9" fill="#004aa7"/><rect x="620" y="284" width="9" height="9" fill="#004aa8"/><rect x="628" y="284" width="9" height="9" fill="#004aa7"/><rect x="636" y="284" width="9" height="9" fill="#004ba6"/><rect x="644" y="284" width="9" height="9" fill="#004da5"/><rect x="652" y="284" width="9" height="9" fill="#004fa6"/><rect x="660" y="284" width="9" height="9" fill="#0050a6"/><rect x="668" y="284" width="9" height="9" fill="#0050a5"/><rect x="676" y="284" width="9" height="9" fill="#004fa5"/><rect x="564" y="292" width="9" height="9" fill="#003b97"/><rect x="572" y="292" width="9" height="9" fill="#003a98"/><rect x="580" y="292" width="9" height="9" fill="#003a98"/><rect x="588" y="292" width="9" height="9" fill="#003c98"/><rect x="596" y="292" width="9" height="9" fill="#00429b"/><rect x="604" y="292" width="9" height="9" fill="#0048a2"/><rect x="612" y="292" width="9" height="9" fill="#004aa7"/><rect x="620" y="292" width="9" height="9" fill="#004aa8"/><rect x="628" y="292" width="9" height="9" fill="#004aa7"/><rect x="636" y="292" width="9" height="9" fill="#004da5"/><rect x="644" y="292" width="9" height="9" fill="#0051a4"/><rect x="652" y="292" width="9" height="9" fill="#0054a4"/><rect x="660" y="292" width="9" height="9" fill="#0055a4"/><rect x="668" y="292" width="9" height="9" fill="#0054a3"/><rect x="676" y="292" width="9" height="9" fill="#0053a3"/><rect x="564" y="300" width="9" height="9" fill="#003b96"/><rect x="572" y="300" width="9" height="9" fill="#003a98"/><rect x="580" y="300" width="9" height="9" fill="#003a98"/><rect x="588" y="300" width="9" height="9" fill="#003c97"/><rect x="596" y="300" width="9" height="9" fill="#004297"/><rect x="604" y="300" width="9" height="9" fill="#00489d"/><rect x="612" y="300" width="9" height="9" fill="#004aa3"/><rect x="620" y="300" width="9" height="9" fill="#004ba5"/><rect x="628" y="300" width="9" height="9" fill="#004ca4"/><rect x="636" y="300" width="9" height="9" fill="#0052a3"/><rect x="644" y="300" width="9" height="9" fill="#0059a4"/><rect x="652" y="300" width="9" height="9" fill="#005ca4"/><rect x="660" y="300" width="9" height="9" fill="#005ba4"/><rect x="668" y="300" width="9" height="9" fill="#0059a3"/><rect x="676" y="300" width="9" height="9" fill="#0057a1"/><rect x="564" y="308" width="9" height="9" fill="#003b92"/><rect x="572" y="308" width="9" height="9" fill="#003b95"/><rect x="580" y="308" width="9" height="9" fill="#003b95"/><rect x="588" y="308" width="9" height="9" fill="#003e93"/><rect x="596" y="308" width="9" height="9" fill="#004492"/><rect x="604" y="308" width="9" height="9" fill="#004994"/><rect x="612" y="308" width="9" height="9" fill="#004c98"/><rect x="620" y="308" width="9" height="9" fill="#004d9c"/><rect x="628" y="308" width="9" height="9" fill="#00519f"/><rect x="636" y="308" width="9" height="9" fill="#005aa2"/><rect x="644" y="308" width="9" height="9" fill="#0060a6"/><rect x="652" y="308" width="9" height="9" fill="#0061a6"/><rect x="660" y="308" width="9" height="9" fill="#0060a5"/><rect x="668" y="308" width="9" height="9" fill="#005da3"/><rect x="676" y="308" width="9" height="9" fill="#0059a1"/><rect x="564" y="316" width="9" height="9" fill="#003c86"/><rect x="572" y="316" width="9" height="9" fill="#003c86"/><rect x="580" y="316" width="9" height="9" fill="#003d87"/><rect x="588" y="316" width="9" height="9" fill="#004188"/><rect x="596" y="316" width="9" height="9" fill="#00488b"/><rect x="604" y="316" width="9" height="9" fill="#004d8c"/><rect x="612" y="316" width="9" height="9" fill="#004e8d"/><rect x="620" y="316" width="9" height="9" fill="#005092"/><rect x="628" y="316" width="9" height="9" fill="#005599"/><rect x="636" y="316" width="9" height="9" fill="#005ea3"/><rect x="644" y="316" width="9" height="9" fill="#0063a7"/><rect x="652" y="316" width="9" height="9" fill="#0064a8"/><rect x="660" y="316" width="9" height="9" fill="#0062a6"/><rect x="668" y="316" width="9" height="9" fill="#005fa3"/><rect x="676" y="316" width="9" height="9" fill="#005ba0"/><rect x="564" y="324" width="9" height="9" fill="#003c78"/><rect x="572" y="324" width="9" height="9" fill="#003b75"/><rect x="580" y="324" width="9" height="9" fill="#003c76"/><rect x="588" y="324" width="9" height="9" fill="#00417d"/><rect x="596" y="324" width="9" height="9" fill="#004a87"/><rect x="604" y="324" width="9" height="9" fill="#004f8a"/><rect x="612" y="324" width="9" height="9" fill="#00508a"/><rect x="620" y="324" width="9" height="9" fill="#00508d"/><rect x="628" y="324" width="9" height="9" fill="#005594"/><rect x="636" y="324" width="9" height="9" fill="#005da0"/><rect x="644" y="324" width="9" height="9" fill="#0063a6"/><rect x="652" y="324" width="9" height="9" fill="#0063a7"/><rect x="660" y="324" width="9" height="9" fill="#0062a5"/><rect x="668" y="324" width="9" height="9" fill="#005ea1"/><rect x="676" y="324" width="9" height="9" fill="#005a9d"/><rect x="564" y="332" width="9" height="9" fill="#003b73"/><rect x="572" y="332" width="9" height="9" fill="#003a71"/><rect x="580" y="332" width="9" height="9" fill="#003a71"/><rect x="588" y="332" width="9" height="9" fill="#003f77"/><rect x="596" y="332" width="9" height="9" fill="#004a84"/><rect x="604" y="332" width="9" height="9" fill="#004f8a"/><rect x="612" y="332" width="9" height="9" fill="#00508a"/><rect x="620" y="332" width="9" height="9" fill="#00508b"/><rect x="628" y="332" width="9" height="9" fill="#005390"/><rect x="636" y="332" width="9" height="9" fill="#005998"/><rect x="644" y="332" width="9" height="9" fill="#005e9f"/><rect x="652" y="332" width="9" height="9" fill="#0060a2"/><rect x="660" y="332" width="9" height="9" fill="#005e9f"/><rect x="668" y="332" width="9" height="9" fill="#005b9c"/><rect x="676" y="332" width="9" height="9" fill="#005899"/><rect x="564" y="340" width="9" height="9" fill="#003b72"/><rect x="572" y="340" width="9" height="9" fill="#003a71"/><rect x="580" y="340" width="9" height="9" fill="#003b71"/><rect x="588" y="340" width="9" height="9" fill="#003f76"/><rect x="596" y="340" width="9" height="9" fill="#004880"/><rect x="604" y="340" width="9" height="9" fill="#004e87"/><rect x="612" y="340" width="9" height="9" fill="#004f89"/><rect x="620" y="340" width="9" height="9" fill="#00518a"/><rect x="628" y="340" width="9" height="9" fill="#00548d"/><rect x="636" y="340" width="9" height="9" fill="#00558f"/><rect x="644" y="340" width="9" height="9" fill="#005793"/><rect x="652" y="340" width="9" height="9" fill="#005894"/><rect x="660" y="340" width="9" height="9" fill="#005894"/><rect x="668" y="340" width="9" height="9" fill="#005793"/><rect x="676" y="340" width="9" height="9" fill="#005692"/><rect x="564" y="348" width="9" height="9" fill="#003b70"/><rect x="572" y="348" width="9" height="9" fill="#003b6f"/><rect x="580" y="348" width="9" height="9" fill="#003c6f"/><rect x="588" y="348" width="9" height="9" fill="#003f73"/><rect x="596" y="348" width="9" height="9" fill="#00467a"/><rect x="604" y="348" width="9" height="9" fill="#004b80"/><rect x="612" y="348" width="9" height="9" fill="#004f84"/><rect x="620" y="348" width="9" height="9" fill="#00538a"/><rect x="628" y="348" width="9" height="9" fill="#00558d"/><rect x="636" y="348" width="9" height="9" fill="#00558d"/><rect x="644" y="348" width="9" height="9" fill="#00548b"/><rect x="652" y="348" width="9" height="9" fill="#005489"/><rect x="660" y="348" width="9" height="9" fill="#005489"/><rect x="668" y="348" width="9" height="9" fill="#00548a"/><rect x="676" y="348" width="9" height="9" fill="#00548c"/><rect x="564" y="356" width="9" height="9" fill="#003a69"/><rect x="572" y="356" width="9" height="9" fill="#003965"/><rect x="580" y="356" width="9" height="9" fill="#003964"/><rect x="588" y="356" width="9" height="9" fill="#003d6a"/><rect x="596" y="356" width="9" height="9" fill="#004575"/><rect x="604" y="356" width="9" height="9" fill="#004a7a"/><rect x="612" y="356" width="9" height="9" fill="#004c7c"/><rect x="620" y="356" width="9" height="9" fill="#005287"/><rect x="628" y="356" width="9" height="9" fill="#00568d"/><rect x="636" y="356" width="9" height="9" fill="#00558d"/><rect x="644" y="356" width="9" height="9" fill="#005387"/><rect x="652" y="356" width="9" height="9" fill="#005283"/><rect x="660" y="356" width="9" height="9" fill="#005283"/><rect x="668" y="356" width="9" height="9" fill="#005285"/><rect x="676" y="356" width="9" height="9" fill="#005388"/><rect x="564" y="364" width="9" height="9" fill="#003964"/><rect x="572" y="364" width="9" height="9" fill="#003860"/><rect x="580" y="364" width="9" height="9" fill="#00375f"/><rect x="588" y="364" width="9" height="9" fill="#003a63"/><rect x="596" y="364" width="9" height="9" fill="#004472"/><rect x="604" y="364" width="9" height="9" fill="#004b78"/><rect x="612" y="364" width="9" height="9" fill="#004b78"/><rect x="620" y="364" width="9" height="9" fill="#004e7e"/><rect x="628" y="364" width="9" height="9" fill="#005389"/><rect x="636" y="364" width="9" height="9" fill="#005489"/><rect x="644" y="364" width="9" height="9" fill="#005284"/><rect x="652" y="364" width="9" height="9" fill="#005282"/><rect x="660" y="364" width="9" height="9" fill="#005282"/><rect x="668" y="364" width="9" height="9" fill="#005284"/><rect x="676" y="364" width="9" height="9" fill="#005286"/><rect x="564" y="372" width="9" height="9" fill="#003963"/><rect x="572" y="372" width="9" height="9" fill="#003860"/><rect x="580" y="372" width="9" height="9" fill="#00375f"/><rect x="588" y="372" width="9" height="9" fill="#003a63"/><rect x="596" y="372" width="9" height="9" fill="#004370"/><rect x="604" y="372" width="9" height="9" fill="#004a78"/><rect x="612" y="372" width="9" height="9" fill="#004b79"/><rect x="620" y="372" width="9" height="9" fill="#004d7c"/><rect x="628" y="372" width="9" height="9" fill="#005083"/><rect x="636" y="372" width="9" height="9" fill="#005286"/><rect x="644" y="372" width="9" height="9" fill="#005284"/><rect x="652" y="372" width="9" height="9" fill="#005283"/><rect x="660" y="372" width="9" height="9" fill="#005283"/><rect x="668" y="372" width="9" height="9" fill="#005284"/><rect x="676" y="372" width="9" height="9" fill="#005285"/><rect x="564" y="380" width="9" height="9" fill="#003a65"/><rect x="572" y="380" width="9" height="9" fill="#003963"/><rect x="580" y="380" width="9" height="9" fill="#003962"/><rect x="588" y="380" width="9" height="9" fill="#003c67"/><rect x="596" y="380" width="9" height="9" fill="#004370"/><rect x="604" y="380" width="9" height="9" fill="#004977"/><rect x="612" y="380" width="9" height="9" fill="#004b7a"/><rect x="620" y="380" width="9" height="9" fill="#004c7d"/><rect x="628" y="380" width="9" height="9" fill="#004f81"/><rect x="636" y="380" width="9" height="9" fill="#005084"/><rect x="644" y="380" width="9" height="9" fill="#005184"/><rect x="652" y="380" width="9" height="9" fill="#005283"/><rect x="660" y="380" width="9" height="9" fill="#005284"/><rect x="668" y="380" width="9" height="9" fill="#005284"/><rect x="676" y="380" width="9" height="9" fill="#005186"/><rect x="564" y="388" width="9" height="9" fill="#003c69"/><rect x="572" y="388" width="9" height="9" fill="#003b67"/><rect x="580" y="388" width="9" height="9" fill="#003c68"/><rect x="588" y="388" width="9" height="9" fill="#003f6c"/><rect x="596" y="388" width="9" height="9" fill="#004372"/><rect x="604" y="388" width="9" height="9" fill="#004877"/><rect x="612" y="388" width="9" height="9" fill="#004a7b"/><rect x="620" y="388" width="9" height="9" fill="#004c7e"/><rect x="628" y="388" width="9" height="9" fill="#004e81"/><rect x="636" y="388" width="9" height="9" fill="#004f83"/><rect x="644" y="388" width="9" height="9" fill="#005084"/><rect x="652" y="388" width="9" height="9" fill="#005184"/><rect x="660" y="388" width="9" height="9" fill="#005184"/><rect x="668" y="388" width="9" height="9" fill="#005185"/><rect x="676" y="388" width="9" height="9" fill="#005186"/><rect x="92" y="356" width="9" height="9" fill="#004576"/><rect x="100" y="356" width="9" height="9" fill="#00487d"/><rect x="108" y="356" width="9" height="9" fill="#004a80"/><rect x="116" y="356" width="9" height="9" fill="#004a81"/><rect x="124" y="356" width="9" height="9" fill="#004c86"/><rect x="132" y="356" width="9" height="9" fill="#005092"/><rect x="140" y="356" width="9" height="9" fill="#00539a"/><rect x="148" y="356" width="9" height="9" fill="#00549d"/><rect x="156" y="356" width="9" height="9" fill="#00549d"/><rect x="164" y="356" width="9" height="9" fill="#00549c"/><rect x="172" y="356" width="9" height="9" fill="#00539a"/><rect x="180" y="356" width="9" height="9" fill="#005197"/><rect x="188" y="356" width="9" height="9" fill="#005194"/><rect x="196" y="356" width="9" height="9" fill="#005191"/><rect x="204" y="356" width="9" height="9" fill="#00528e"/><rect x="212" y="356" width="9" height="9" fill="#00538c"/><rect x="220" y="356" width="9" height="9" fill="#00548b"/><rect x="228" y="356" width="9" height="9" fill="#00558a"/><rect x="236" y="356" width="9" height="9" fill="#00558a"/><rect x="244" y="356" width="9" height="9" fill="#00558a"/><rect x="252" y="356" width="9" height="9" fill="#00558a"/><rect x="260" y="356" width="9" height="9" fill="#00558b"/><rect x="268" y="356" width="9" height="9" fill="#00568c"/><rect x="276" y="356" width="9" height="9" fill="#00588d"/><rect x="284" y="356" width="9" height="9" fill="#00598e"/><rect x="292" y="356" width="9" height="9" fill="#005a8e"/><rect x="300" y="356" width="9" height="9" fill="#005a8e"/><rect x="308" y="356" width="9" height="9" fill="#005a8e"/><rect x="316" y="356" width="9" height="9" fill="#00598e"/><rect x="324" y="356" width="9" height="9" fill="#00578e"/><rect x="332" y="356" width="9" height="9" fill="#00558d"/><rect x="340" y="356" width="9" height="9" fill="#00518b"/><rect x="348" y="356" width="9" height="9" fill="#004c88"/><rect x="356" y="356" width="9" height="9" fill="#004784"/><rect x="364" y="356" width="9" height="9" fill="#004480"/><rect x="372" y="356" width="9" height="9" fill="#00427d"/><rect x="380" y="356" width="9" height="9" fill="#00417b"/><rect x="388" y="356" width="9" height="9" fill="#00407a"/><rect x="396" y="356" width="9" height="9" fill="#00407a"/><rect x="404" y="356" width="9" height="9" fill="#00407a"/><rect x="412" y="356" width="9" height="9" fill="#00407a"/><rect x="420" y="356" width="9" height="9" fill="#00407b"/><rect x="428" y="356" width="9" height="9" fill="#00407b"/><rect x="436" y="356" width="9" height="9" fill="#00407c"/><rect x="444" y="356" width="9" height="9" fill="#003f7a"/><rect x="452" y="356" width="9" height="9" fill="#003e77"/><rect x="460" y="356" width="9" height="9" fill="#003d74"/><rect x="468" y="356" width="9" height="9" fill="#003c6f"/><rect x="476" y="356" width="9" height="9" fill="#003b6c"/><rect x="484" y="356" width="9" height="9" fill="#003a6a"/><rect x="492" y="356" width="9" height="9" fill="#003a69"/><rect x="500" y="356" width="9" height="9" fill="#003a69"/><rect x="508" y="356" width="9" height="9" fill="#003a69"/><rect x="516" y="356" width="9" height="9" fill="#003b6b"/><rect x="524" y="356" width="9" height="9" fill="#003c6f"/><rect x="532" y="356" width="9" height="9" fill="#003c72"/><rect x="540" y="356" width="9" height="9" fill="#003d73"/><rect x="548" y="356" width="9" height="9" fill="#003c71"/><rect x="556" y="356" width="9" height="9" fill="#003c6d"/><rect x="564" y="356" width="9" height="9" fill="#003a69"/><rect x="92" y="364" width="9" height="9" fill="#004677"/><rect x="100" y="364" width="9" height="9" fill="#00497f"/><rect x="108" y="364" width="9" height="9" fill="#004a80"/><rect x="116" y="364" width="9" height="9" fill="#004a80"/><rect x="124" y="364" width="9" height="9" fill="#004c85"/><rect x="132" y="364" width="9" height="9" fill="#005194"/><rect x="140" y="364" width="9" height="9" fill="#00549c"/><rect x="148" y="364" width="9" height="9" fill="#00559e"/><rect x="156" y="364" width="9" height="9" fill="#00559e"/><rect x="164" y="364" width="9" height="9" fill="#00549d"/><rect x="172" y="364" width="9" height="9" fill="#00539a"/><rect x="180" y="364" width="9" height="9" fill="#005298"/><rect x="188" y="364" width="9" height="9" fill="#005194"/><rect x="196" y="364" width="9" height="9" fill="#005191"/><rect x="204" y="364" width="9" height="9" fill="#00528e"/><rect x="212" y="364" width="9" height="9" fill="#00548c"/><rect x="220" y="364" width="9" height="9" fill="#00548b"/><rect x="228" y="364" width="9" height="9" fill="#00558a"/><rect x="236" y="364" width="9" height="9" fill="#00558a"/><rect x="244" y="364" width="9" height="9" fill="#00558a"/><rect x="252" y="364" width="9" height="9" fill="#00558a"/><rect x="260" y="364" width="9" height="9" fill="#00558b"/><rect x="268" y="364" width="9" height="9" fill="#00568c"/><rect x="276" y="364" width="9" height="9" fill="#00588d"/><rect x="284" y="364" width="9" height="9" fill="#00598e"/><rect x="292" y="364" width="9" height="9" fill="#005a8e"/><rect x="300" y="364" width="9" height="9" fill="#005a8e"/><rect x="308" y="364" width="9" height="9" fill="#005a8e"/><rect x="316" y="364" width="9" height="9" fill="#00598e"/><rect x="324" y="364" width="9" height="9" fill="#00588e"/><rect x="332" y="364" width="9" height="9" fill="#00558d"/><rect x="340" y="364" width="9" height="9" fill="#00518b"/><rect x="348" y="364" width="9" height="9" fill="#004c87"/><rect x="356" y="364" width="9" height="9" fill="#004783"/><rect x="364" y="364" width="9" height="9" fill="#00437f"/><rect x="372" y="364" width="9" height="9" fill="#00417c"/><rect x="380" y="364" width="9" height="9" fill="#00407b"/><rect x="388" y="364" width="9" height="9" fill="#00407a"/><rect x="396" y="364" width="9" height="9" fill="#00407a"/><rect x="404" y="364" width="9" height="9" fill="#00407a"/><rect x="412" y="364" width="9" height="9" fill="#00407a"/><rect x="420" y="364" width="9" height="9" fill="#00407b"/><rect x="428" y="364" width="9" height="9" fill="#00407b"/><rect x="436" y="364" width="9" height="9" fill="#00407b"/><rect x="444" y="364" width="9" height="9" fill="#003f7a"/><rect x="452" y="364" width="9" height="9" fill="#003e77"/><rect x="460" y="364" width="9" height="9" fill="#003c72"/><rect x="468" y="364" width="9" height="9" fill="#003b6e"/><rect x="476" y="364" width="9" height="9" fill="#003b6b"/><rect x="484" y="364" width="9" height="9" fill="#003a69"/><rect x="492" y="364" width="9" height="9" fill="#003a68"/><rect x="500" y="364" width="9" height="9" fill="#003a68"/><rect x="508" y="364" width="9" height="9" fill="#003a68"/><rect x="516" y="364" width="9" height="9" fill="#003a6a"/><rect x="524" y="364" width="9" height="9" fill="#003b6d"/><rect x="532" y="364" width="9" height="9" fill="#003c70"/><rect x="540" y="364" width="9" height="9" fill="#003d71"/><rect x="548" y="364" width="9" height="9" fill="#003c6e"/><rect x="556" y="364" width="9" height="9" fill="#003b6a"/><rect x="564" y="364" width="9" height="9" fill="#003964"/><rect x="92" y="372" width="9" height="9" fill="#004779"/><rect x="100" y="372" width="9" height="9" fill="#00497f"/><rect x="108" y="372" width="9" height="9" fill="#004a80"/><rect x="116" y="372" width="9" height="9" fill="#004a81"/><rect x="124" y="372" width="9" height="9" fill="#004c85"/><rect x="132" y="372" width="9" height="9" fill="#005193"/><rect x="140" y="372" width="9" height="9" fill="#00549c"/><rect x="148" y="372" width="9" height="9" fill="#00559e"/><rect x="156" y="372" width="9" height="9" fill="#00559e"/><rect x="164" y="372" width="9" height="9" fill="#00549c"/><rect x="172" y="372" width="9" height="9" fill="#00539a"/><rect x="180" y="372" width="9" height="9" fill="#005298"/><rect x="188" y="372" width="9" height="9" fill="#005194"/><rect x="196" y="372" width="9" height="9" fill="#005191"/><rect x="204" y="372" width="9" height="9" fill="#00528e"/><rect x="212" y="372" width="9" height="9" fill="#00548c"/><rect x="220" y="372" width="9" height="9" fill="#00548b"/><rect x="228" y="372" width="9" height="9" fill="#00558a"/><rect x="236" y="372" width="9" height="9" fill="#00558a"/><rect x="244" y="372" width="9" height="9" fill="#00558a"/><rect x="252" y="372" width="9" height="9" fill="#00558a"/><rect x="260" y="372" width="9" height="9" fill="#00558b"/><rect x="268" y="372" width="9" height="9" fill="#00568c"/><rect x="276" y="372" width="9" height="9" fill="#00588d"/><rect x="284" y="372" width="9" height="9" fill="#00598e"/><rect x="292" y="372" width="9" height="9" fill="#005a8e"/><rect x="300" y="372" width="9" height="9" fill="#005a8e"/><rect x="308" y="372" width="9" height="9" fill="#005a8e"/><rect x="316" y="372" width="9" height="9" fill="#00598e"/><rect x="324" y="372" width="9" height="9" fill="#00588e"/><rect x="332" y="372" width="9" height="9" fill="#00558d"/><rect x="340" y="372" width="9" height="9" fill="#00518b"/><rect x="348" y="372" width="9" height="9" fill="#004c87"/><rect x="356" y="372" width="9" height="9" fill="#004783"/><rect x="364" y="372" width="9" height="9" fill="#00437f"/><rect x="372" y="372" width="9" height="9" fill="#00417c"/><rect x="380" y="372" width="9" height="9" fill="#00407b"/><rect x="388" y="372" width="9" height="9" fill="#00407a"/><rect x="396" y="372" width="9" height="9" fill="#00407a"/><rect x="404" y="372" width="9" height="9" fill="#00407a"/><rect x="412" y="372" width="9" height="9" fill="#00407a"/><rect x="420" y="372" width="9" height="9" fill="#00407b"/><rect x="428" y="372" width="9" height="9" fill="#00407b"/><rect x="436" y="372" width="9" height="9" fill="#00407b"/><rect x="444" y="372" width="9" height="9" fill="#003f79"/><rect x="452" y="372" width="9" height="9" fill="#003e76"/><rect x="460" y="372" width="9" height="9" fill="#003d72"/><rect x="468" y="372" width="9" height="9" fill="#003b6e"/><rect x="476" y="372" width="9" height="9" fill="#003b6b"/><rect x="484" y="372" width="9" height="9" fill="#003a69"/><rect x="492" y="372" width="9" height="9" fill="#003a68"/><rect x="500" y="372" width="9" height="9" fill="#003a68"/><rect x="508" y="372" width="9" height="9" fill="#003a68"/><rect x="516" y="372" width="9" height="9" fill="#003a6a"/><rect x="524" y="372" width="9" height="9" fill="#003b6d"/><rect x="532" y="372" width="9" height="9" fill="#003c6f"/><rect x="540" y="372" width="9" height="9" fill="#003d70"/><rect x="548" y="372" width="9" height="9" fill="#003c6d"/><rect x="556" y="372" width="9" height="9" fill="#003b69"/><rect x="564" y="372" width="9" height="9" fill="#003963"/><rect x="92" y="380" width="9" height="9" fill="#00477b"/><rect x="100" y="380" width="9" height="9" fill="#00497f"/><rect x="108" y="380" width="9" height="9" fill="#004a80"/><rect x="116" y="380" width="9" height="9" fill="#004a82"/><rect x="124" y="380" width="9" height="9" fill="#004c87"/><rect x="132" y="380" width="9" height="9" fill="#005092"/><rect x="140" y="380" width="9" height="9" fill="#00539a"/><rect x="148" y="380" width="9" height="9" fill="#00549c"/><rect x="156" y="380" width="9" height="9" fill="#00549c"/><rect x="164" y="380" width="9" height="9" fill="#00549b"/><rect x="172" y="380" width="9" height="9" fill="#005399"/><rect x="180" y="380" width="9" height="9" fill="#005297"/><rect x="188" y="380" width="9" height="9" fill="#005194"/><rect x="196" y="380" width="9" height="9" fill="#005191"/><rect x="204" y="380" width="9" height="9" fill="#00528e"/><rect x="212" y="380" width="9" height="9" fill="#00538c"/><rect x="220" y="380" width="9" height="9" fill="#00548b"/><rect x="228" y="380" width="9" height="9" fill="#00558a"/><rect x="236" y="380" width="9" height="9" fill="#00558a"/><rect x="244" y="380" width="9" height="9" fill="#00558a"/><rect x="252" y="380" width="9" height="9" fill="#00558a"/><rect x="260" y="380" width="9" height="9" fill="#00558b"/><rect x="268" y="380" width="9" height="9" fill="#00568c"/><rect x="276" y="380" width="9" height="9" fill="#00588d"/><rect x="284" y="380" width="9" height="9" fill="#00598e"/><rect x="292" y="380" width="9" height="9" fill="#005a8e"/><rect x="300" y="380" width="9" height="9" fill="#005a8e"/><rect x="308" y="380" width="9" height="9" fill="#005a8e"/><rect x="316" y="380" width="9" height="9" fill="#00598e"/><rect x="324" y="380" width="9" height="9" fill="#00578d"/><rect x="332" y="380" width="9" height="9" fill="#00558c"/><rect x="340" y="380" width="9" height="9" fill="#00518a"/><rect x="348" y="380" width="9" height="9" fill="#004c87"/><rect x="356" y="380" width="9" height="9" fill="#004783"/><rect x="364" y="380" width="9" height="9" fill="#004480"/><rect x="372" y="380" width="9" height="9" fill="#00427d"/><rect x="380" y="380" width="9" height="9" fill="#00417b"/><rect x="388" y="380" width="9" height="9" fill="#00407a"/><rect x="396" y="380" width="9" height="9" fill="#00407a"/><rect x="404" y="380" width="9" height="9" fill="#00407a"/><rect x="412" y="380" width="9" height="9" fill="#00407a"/><rect x="420" y="380" width="9" height="9" fill="#00407b"/><rect x="428" y="380" width="9" height="9" fill="#00407b"/><rect x="436" y="380" width="9" height="9" fill="#00407b"/><rect x="444" y="380" width="9" height="9" fill="#003f79"/><rect x="452" y="380" width="9" height="9" fill="#003e77"/><rect x="460" y="380" width="9" height="9" fill="#003d73"/><rect x="468" y="380" width="9" height="9" fill="#003c6f"/><rect x="476" y="380" width="9" height="9" fill="#003b6c"/><rect x="484" y="380" width="9" height="9" fill="#003a6a"/><rect x="492" y="380" width="9" height="9" fill="#003a69"/><rect x="500" y="380" width="9" height="9" fill="#003a69"/><rect x="508" y="380" width="9" height="9" fill="#003a69"/><rect x="516" y="380" width="9" height="9" fill="#003b6b"/><rect x="524" y="380" width="9" height="9" fill="#003c6d"/><rect x="532" y="380" width="9" height="9" fill="#003c6f"/><rect x="540" y="380" width="9" height="9" fill="#003d70"/><rect x="548" y="380" width="9" height="9" fill="#003d6e"/><rect x="556" y="380" width="9" height="9" fill="#003c6a"/><rect x="564" y="380" width="9" height="9" fill="#003a65"/><rect x="92" y="388" width="9" height="9" fill="#00477c"/><rect x="100" y="388" width="9" height="9" fill="#00487f"/><rect x="108" y="388" width="9" height="9" fill="#004981"/><rect x="116" y="388" width="9" height="9" fill="#004a83"/><rect x="124" y="388" width="9" height="9" fill="#004c88"/><rect x="132" y="388" width="9" height="9" fill="#004f90"/><rect x="140" y="388" width="9" height="9" fill="#005196"/><rect x="148" y="388" width="9" height="9" fill="#005399"/><rect x="156" y="388" width="9" height="9" fill="#00539a"/><rect x="164" y="388" width="9" height="9" fill="#005399"/><rect x="172" y="388" width="9" height="9" fill="#005298"/><rect x="180" y="388" width="9" height="9" fill="#005196"/><rect x="188" y="388" width="9" height="9" fill="#005193"/><rect x="196" y="388" width="9" height="9" fill="#005190"/><rect x="204" y="388" width="9" height="9" fill="#00528e"/><rect x="212" y="388" width="9" height="9" fill="#00538c"/><rect x="220" y="388" width="9" height="9" fill="#00548b"/><rect x="228" y="388" width="9" height="9" fill="#00548b"/><rect x="236" y="388" width="9" height="9" fill="#00558b"/><rect x="244" y="388" width="9" height="9" fill="#00558b"/><rect x="252" y="388" width="9" height="9" fill="#00558b"/><rect x="260" y="388" width="9" height="9" fill="#00558b"/><rect x="268" y="388" width="9" height="9" fill="#00568c"/><rect x="276" y="388" width="9" height="9" fill="#00578d"/><rect x="284" y="388" width="9" height="9" fill="#00588e"/><rect x="292" y="388" width="9" height="9" fill="#00598e"/><rect x="300" y="388" width="9" height="9" fill="#00598e"/><rect x="308" y="388" width="9" height="9" fill="#00598e"/><rect x="316" y="388" width="9" height="9" fill="#00588e"/><rect x="324" y="388" width="9" height="9" fill="#00568d"/><rect x="332" y="388" width="9" height="9" fill="#00548c"/><rect x="340" y="388" width="9" height="9" fill="#00508a"/><rect x="348" y="388" width="9" height="9" fill="#004c87"/><rect x="356" y="388" width="9" height="9" fill="#004884"/><rect x="364" y="388" width="9" height="9" fill="#004480"/><rect x="372" y="388" width="9" height="9" fill="#00427e"/><rect x="380" y="388" width="9" height="9" fill="#00417c"/><rect x="388" y="388" width="9" height="9" fill="#00407b"/><rect x="396" y="388" width="9" height="9" fill="#00407b"/><rect x="404" y="388" width="9" height="9" fill="#00407b"/><rect x="412" y="388" width="9" height="9" fill="#00407b"/><rect x="420" y="388" width="9" height="9" fill="#00407b"/><rect x="428" y="388" width="9" height="9" fill="#00407b"/><rect x="436" y="388" width="9" height="9" fill="#00407b"/><rect x="444" y="388" width="9" height="9" fill="#003f7a"/><rect x="452" y="388" width="9" height="9" fill="#003e77"/><rect x="460" y="388" width="9" height="9" fill="#003d74"/><rect x="468" y="388" width="9" height="9" fill="#003c70"/><rect x="476" y="388" width="9" height="9" fill="#003b6d"/><rect x="484" y="388" width="9" height="9" fill="#003b6b"/><rect x="492" y="388" width="9" height="9" fill="#003b6a"/><rect x="500" y="388" width="9" height="9" fill="#003b6a"/><rect x="508" y="388" width="9" height="9" fill="#003b6b"/><rect x="516" y="388" width="9" height="9" fill="#003b6c"/><rect x="524" y="388" width="9" height="9" fill="#003c6e"/><rect x="532" y="388" width="9" height="9" fill="#003d70"/><rect x="540" y="388" width="9" height="9" fill="#003d71"/><rect x="548" y="388" width="9" height="9" fill="#003d6f"/><rect x="556" y="388" width="9" height="9" fill="#003d6c"/><rect x="564" y="388" width="9" height="9" fill="#003c69"/></g></svg>
<div class="hdr"></div>
<span class="tw" style="left:36.04px;top:28.7px;transform:scaleX(1.1645)">IKP</span>
<span class="tw" style="left:78.98px;top:28.7px;transform:scaleX(1.1222)">izmaiņas</span>
<span class="tw" style="left:177.29px;top:28.7px;transform:scaleX(1.1139)">pret</span>
<span class="tw" style="left:225.20px;top:28.7px;transform:scaleX(1.0990)">iepriekšējā</span>
<span class="tw" style="left:345.80px;top:28.7px;transform:scaleX(1.0500)">gada</span>
<span class="tw" style="left:401.70px;top:28.7px;transform:scaleX(1.0864)">attiecīgo</span>
<span class="tw" style="left:496.74px;top:28.7px;transform:scaleX(1.0643)">periodu</span>
<span class="tw" style="left:582.33px;top:28.7px;transform:scaleX(1.1500)">(</span>
<span class="tw" style="left:592.70px;top:28.7px;transform:scaleX(1.2875)">%</span>
<span class="tw" style="left:616.00px;top:28.7px;transform:scaleX(1.1167)">)</span>
<span class="tw" style="left:194.54px;top:49.8px;transform:scaleX(1.0591)">un</span>
<span class="tw" style="left:226.10px;top:49.8px;transform:scaleX(1.0877)">devums</span>
<span class="tw" style="left:311.53px;top:49.8px;transform:scaleX(1.1710)">IKP</span>
<span class="tw" style="left:356.31px;top:49.8px;transform:scaleX(1.0902)">pieaugumā</span>
<div class="box"></div>
<svg class="ch" width="665" height="375" viewBox="0 0 665 375"><line x1="139" y1="108.4" x2="551" y2="108.4" stroke="#D9D9D9" stroke-width="1"/><line x1="139" y1="156.2" x2="551" y2="156.2" stroke="#D9D9D9" stroke-width="1"/><line x1="139" y1="251.3" x2="551" y2="251.3" stroke="#D9D9D9" stroke-width="1"/><line x1="139" y1="299.2" x2="551" y2="299.2" stroke="#D9D9D9" stroke-width="1"/><rect x="143.3" y="164.2" width="43.4" height="14.0" fill="#FAC090"/><rect x="143.3" y="178.2" width="43.4" height="2.7" fill="#7F7F7F"/><rect x="143.3" y="180.9" width="43.4" height="11.9" fill="#B3A2C7"/><rect x="143.3" y="192.8" width="43.4" height="2.5" fill="#92D050"/><rect x="143.3" y="195.3" width="43.4" height="8.4" fill="#CD7371"/><rect x="143.3" y="203.7" width="43.4" height="20.1" fill="#95B3D7"/><rect x="194.7" y="181.0" width="43.0" height="6.7" fill="#FAC090"/><rect x="194.7" y="187.7" width="43.0" height="4.8" fill="#7F7F7F"/><rect x="194.7" y="192.5" width="43.0" height="7.1" fill="#B3A2C7"/><rect x="194.7" y="199.6" width="43.0" height="4.1" fill="#92D050"/><rect x="194.7" y="203.7" width="43.0" height="9.3" fill="#95B3D7"/><rect x="246.3" y="197.0" width="43.0" height="1.7" fill="#95B3D7"/><rect x="246.3" y="198.7" width="43.0" height="2.6" fill="#7F7F7F"/><rect x="246.3" y="201.3" width="43.0" height="2.4" fill="#92D050"/><rect x="246.3" y="203.7" width="43.0" height="12.9" fill="#CD7371"/><rect x="246.3" y="216.6" width="43.0" height="2.1" fill="#B3A2C7"/><rect x="246.3" y="218.7" width="43.0" height="2.2" fill="#FAC090"/><rect x="297.9" y="134.0" width="43.1" height="18.7" fill="#FAC090"/><rect x="297.9" y="152.7" width="43.1" height="21.3" fill="#7F7F7F"/><rect x="297.9" y="174.0" width="43.1" height="2.8" fill="#B3A2C7"/><rect x="297.9" y="176.8" width="43.1" height="4.5" fill="#92D050"/><rect x="297.9" y="181.3" width="43.1" height="22.4" fill="#CD7371"/><rect x="297.9" y="203.7" width="43.1" height="50.0" fill="#95B3D7"/><rect x="401.2" y="107.7" width="42.6" height="39.2" fill="#FAC090"/><rect x="401.2" y="146.9" width="42.6" height="2.3" fill="#B3A2C7"/><rect x="401.2" y="149.2" width="42.6" height="54.5" fill="#CD7371"/><rect x="401.2" y="203.7" width="42.6" height="69.4" fill="#95B3D7"/><rect x="452.3" y="149.1" width="43.3" height="31.8" fill="#FAC090"/><rect x="452.3" y="180.9" width="43.3" height="1.2" fill="#B3A2C7"/><rect x="452.3" y="182.1" width="43.3" height="2.8" fill="#92D050"/><rect x="452.3" y="184.9" width="43.3" height="18.8" fill="#CD7371"/><rect x="452.3" y="203.7" width="43.3" height="40.7" fill="#95B3D7"/><rect x="504.3" y="148.8" width="42.5" height="38.0" fill="#FAC090"/><rect x="504.3" y="186.8" width="42.5" height="2.0" fill="#92D050"/><rect x="504.3" y="188.8" width="42.5" height="14.9" fill="#CD7371"/><rect x="504.3" y="203.7" width="42.5" height="24.8" fill="#7F7F7F"/><rect x="504.3" y="228.5" width="42.5" height="32.6" fill="#95B3D7"/><line x1="139" y1="203.7" x2="551" y2="203.7" stroke="#000" stroke-width="2"/><text x="129" y="112.4" text-anchor="end" class="ax">20</text><text x="129" y="160.2" text-anchor="end" class="ax">10</text><text x="129" y="207.7" text-anchor="end" class="ax">0</text><text x="129" y="255.3" text-anchor="end" class="ax">-10</text><text x="129" y="303.2" text-anchor="end" class="ax">-20</text><text x="164.6" y="317" text-anchor="middle" class="ax">2018</text><text x="216.2" y="317" text-anchor="middle" class="ax">2019</text><text x="267.8" y="317" text-anchor="middle" class="ax">2020</text><text x="319.4" y="317" text-anchor="middle" class="ax">2021</text><text x="422.5" y="317" text-anchor="middle" class="ax">1.c. 2022</text><text x="474.0" y="317" text-anchor="middle" class="ax">2.c.</text><text x="525.2" y="317" text-anchor="middle" class="ax">3.c.</text><path d="M163.7 184.2 L215.9 190.4 L267.0 213.5 L318.7 183.3" fill="none" stroke="#000" stroke-width="2.4" stroke-linejoin="round"/><path d="M421.7 176.4 L472.9 188.7 L524.6 206.0" fill="none" stroke="#000" stroke-width="2.4" stroke-linejoin="round"/><circle cx="163.7" cy="184.2" r="4.6" fill="#000" stroke="#fff" stroke-width="1"/><circle cx="215.9" cy="190.4" r="4.6" fill="#000" stroke="#fff" stroke-width="1"/><circle cx="267.0" cy="213.5" r="4.6" fill="#000" stroke="#fff" stroke-width="1"/><circle cx="318.7" cy="183.3" r="4.6" fill="#000" stroke="#fff" stroke-width="1"/><circle cx="421.7" cy="176.4" r="4.6" fill="#000" stroke="#fff" stroke-width="1"/><circle cx="472.9" cy="188.7" r="4.6" fill="#000" stroke="#fff" stroke-width="1"/><circle cx="524.6" cy="206.0" r="4.6" fill="#000" stroke="#fff" stroke-width="1"/><rect x="153.1" y="160.5" width="23.7" height="16" fill="#fff" fill-opacity="0.7"/><rect x="204.0" y="166.5" width="24.0" height="16" fill="#fff" fill-opacity="0.7"/><rect x="254.0" y="189.0" width="28.0" height="16" fill="#fff" fill-opacity="0.7"/><rect x="307.0" y="160.3" width="24.2" height="16" fill="#fff" fill-opacity="0.7"/><rect x="410.9" y="152.3" width="23.1" height="16" fill="#fff" fill-opacity="0.7"/><rect x="462.0" y="164.7" width="24.1" height="16" fill="#fff" fill-opacity="0.7"/><rect x="511.6" y="181.8" width="27.8" height="16" fill="#fff" fill-opacity="0.7"/><text x="164.7" y="171.9" text-anchor="middle" class="dl">4,0</text><text x="216.5" y="179.1" text-anchor="middle" class="dl">2,6</text><text x="268.1" y="201.3" text-anchor="middle" class="dl">-2,2</text><text x="319.2" y="171.7" text-anchor="middle" class="dl">4,1</text><text x="422.8" y="164.7" text-anchor="middle" class="dl">5,6</text><text x="474.2" y="177.7" text-anchor="middle" class="dl">2,9</text><text x="525.7" y="193.7" text-anchor="middle" class="dl">-0,6</text><rect x="126.7" y="325.5" width="20.2" height="4.6" fill="#CD7371"/><text x="149.0" y="331.0" class="lg">Privātais patēriņš</text><rect x="273.7" y="325.5" width="20.2" height="4.6" fill="#92D050"/><text x="296.0" y="331.0" class="lg">Sabiedriskais patēriņš</text><rect x="421.2" y="325.5" width="20.2" height="4.6" fill="#B3A2C7"/><text x="443.8" y="331.0" class="lg">Investīcijas</text><rect x="126.7" y="337.5" width="20.2" height="4.6" fill="#7F7F7F"/><text x="149.0" y="343.0" class="lg">Krājumu izmaiņas</text><rect x="273.7" y="337.5" width="20.2" height="4.6" fill="#FAC090"/><text x="296.0" y="343.0" class="lg">Eksports</text><rect x="421.2" y="337.5" width="20.2" height="4.6" fill="#95B3D7"/><text x="443.8" y="343.0" class="lg">Imports</text><line x1="125.2" y1="351.5" x2="147.8" y2="351.5" stroke="#000" stroke-width="2.2"/><circle cx="136.5" cy="351.5" r="1.5" fill="#000" stroke="#fff" stroke-width="0.6"/><text x="148.8" y="354.2" class="lg">IKP</text></svg>
</body></html>
